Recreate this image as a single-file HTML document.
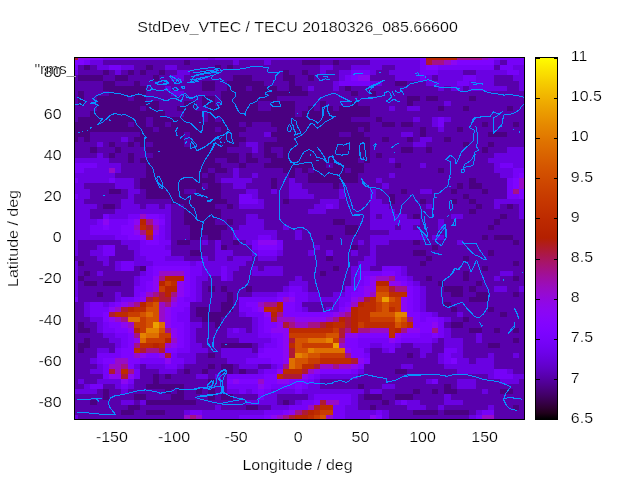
<!DOCTYPE html><html><head><meta charset="utf-8"><style>html,body{margin:0;padding:0;background:#fff;overflow:hidden}svg{display:block;will-change:transform}</style></head><body><svg width="640" height="480" viewBox="0 0 640 480" shape-rendering="crispEdges"><rect width="640" height="480" fill="#fff"/>
<rect x="75" y="58" width="3" height="2" fill="#ae1a35"/>
<rect x="78" y="58" width="12" height="2" fill="#8c07f3"/>
<rect x="90" y="58" width="13" height="2" fill="#7e04ff"/>
<rect x="103" y="58" width="105" height="2" fill="#7602f8"/>
<rect x="208" y="58" width="7" height="2" fill="#6a01e2"/>
<rect x="215" y="58" width="205" height="2" fill="#7602f8"/>
<rect x="420" y="58" width="6" height="2" fill="#7e04ff"/>
<rect x="426" y="58" width="31" height="2" fill="#b82400"/>
<rect x="457" y="58" width="25" height="2" fill="#a41287"/>
<rect x="482" y="58" width="6" height="2" fill="#980bc9"/>
<rect x="488" y="58" width="6" height="2" fill="#8c07f3"/>
<rect x="494" y="58" width="6" height="2" fill="#7e04ff"/>
<rect x="500" y="58" width="24" height="2" fill="#7602f8"/>
<rect x="75" y="60" width="9" height="5" fill="#7e04ff"/>
<rect x="84" y="60" width="6" height="5" fill="#7602f8"/>
<rect x="90" y="60" width="13" height="5" fill="#6a01e2"/>
<rect x="103" y="60" width="81" height="5" fill="#5800ac"/>
<rect x="184" y="60" width="6" height="5" fill="#4a0081"/>
<rect x="190" y="60" width="43" height="5" fill="#5800ac"/>
<rect x="233" y="60" width="6" height="5" fill="#6a01e2"/>
<rect x="239" y="60" width="25" height="5" fill="#5800ac"/>
<rect x="264" y="60" width="7" height="5" fill="#6a01e2"/>
<rect x="271" y="60" width="31" height="5" fill="#5800ac"/>
<rect x="302" y="60" width="18" height="5" fill="#4a0081"/>
<rect x="320" y="60" width="13" height="5" fill="#5800ac"/>
<rect x="333" y="60" width="6" height="5" fill="#4a0081"/>
<rect x="339" y="60" width="31" height="5" fill="#5800ac"/>
<rect x="370" y="60" width="50" height="5" fill="#6a01e2"/>
<rect x="420" y="60" width="6" height="5" fill="#7602f8"/>
<rect x="426" y="60" width="6" height="5" fill="#ae1a35"/>
<rect x="432" y="60" width="12" height="5" fill="#a41287"/>
<rect x="444" y="60" width="7" height="5" fill="#980bc9"/>
<rect x="451" y="60" width="6" height="5" fill="#8c07f3"/>
<rect x="457" y="60" width="37" height="5" fill="#7e04ff"/>
<rect x="494" y="60" width="6" height="5" fill="#6a01e2"/>
<rect x="500" y="60" width="7" height="5" fill="#5800ac"/>
<rect x="507" y="60" width="17" height="5" fill="#7602f8"/>
<rect x="75" y="65" width="3" height="5" fill="#7602f8"/>
<rect x="78" y="65" width="6" height="5" fill="#5800ac"/>
<rect x="84" y="65" width="6" height="5" fill="#4a0081"/>
<rect x="90" y="65" width="7" height="5" fill="#5800ac"/>
<rect x="97" y="65" width="12" height="5" fill="#6a01e2"/>
<rect x="109" y="65" width="12" height="5" fill="#7602f8"/>
<rect x="121" y="65" width="13" height="5" fill="#6a01e2"/>
<rect x="134" y="65" width="12" height="5" fill="#5800ac"/>
<rect x="146" y="65" width="7" height="5" fill="#4a0081"/>
<rect x="153" y="65" width="12" height="5" fill="#5800ac"/>
<rect x="165" y="65" width="12" height="5" fill="#6a01e2"/>
<rect x="177" y="65" width="38" height="5" fill="#5800ac"/>
<rect x="215" y="65" width="6" height="5" fill="#4a0081"/>
<rect x="221" y="65" width="6" height="5" fill="#5800ac"/>
<rect x="227" y="65" width="6" height="5" fill="#4a0081"/>
<rect x="233" y="65" width="87" height="5" fill="#5800ac"/>
<rect x="320" y="65" width="13" height="5" fill="#6a01e2"/>
<rect x="333" y="65" width="18" height="5" fill="#5800ac"/>
<rect x="351" y="65" width="31" height="5" fill="#6a01e2"/>
<rect x="382" y="65" width="13" height="5" fill="#5800ac"/>
<rect x="395" y="65" width="25" height="5" fill="#6a01e2"/>
<rect x="420" y="65" width="6" height="5" fill="#7602f8"/>
<rect x="426" y="65" width="12" height="5" fill="#7e04ff"/>
<rect x="438" y="65" width="56" height="5" fill="#7602f8"/>
<rect x="494" y="65" width="6" height="5" fill="#5800ac"/>
<rect x="500" y="65" width="13" height="5" fill="#7602f8"/>
<rect x="513" y="65" width="11" height="5" fill="#6a01e2"/>
<rect x="75" y="70" width="3" height="5" fill="#6a01e2"/>
<rect x="78" y="70" width="25" height="5" fill="#5800ac"/>
<rect x="103" y="70" width="6" height="5" fill="#4a0081"/>
<rect x="109" y="70" width="6" height="5" fill="#5800ac"/>
<rect x="115" y="70" width="6" height="5" fill="#6a01e2"/>
<rect x="121" y="70" width="7" height="5" fill="#5800ac"/>
<rect x="128" y="70" width="6" height="5" fill="#4a0081"/>
<rect x="134" y="70" width="6" height="5" fill="#5800ac"/>
<rect x="140" y="70" width="6" height="5" fill="#4a0081"/>
<rect x="146" y="70" width="13" height="5" fill="#5800ac"/>
<rect x="159" y="70" width="6" height="5" fill="#4a0081"/>
<rect x="165" y="70" width="12" height="5" fill="#5800ac"/>
<rect x="177" y="70" width="13" height="5" fill="#6a01e2"/>
<rect x="190" y="70" width="12" height="5" fill="#5800ac"/>
<rect x="202" y="70" width="6" height="5" fill="#4a0081"/>
<rect x="208" y="70" width="75" height="5" fill="#5800ac"/>
<rect x="283" y="70" width="6" height="5" fill="#4a0081"/>
<rect x="289" y="70" width="13" height="5" fill="#5800ac"/>
<rect x="302" y="70" width="6" height="5" fill="#4a0081"/>
<rect x="308" y="70" width="12" height="5" fill="#5800ac"/>
<rect x="320" y="70" width="6" height="5" fill="#6a01e2"/>
<rect x="326" y="70" width="13" height="5" fill="#5800ac"/>
<rect x="339" y="70" width="12" height="5" fill="#6a01e2"/>
<rect x="351" y="70" width="19" height="5" fill="#7602f8"/>
<rect x="370" y="70" width="6" height="5" fill="#6a01e2"/>
<rect x="376" y="70" width="13" height="5" fill="#5800ac"/>
<rect x="389" y="70" width="31" height="5" fill="#6a01e2"/>
<rect x="420" y="70" width="18" height="5" fill="#7602f8"/>
<rect x="438" y="70" width="25" height="5" fill="#6a01e2"/>
<rect x="463" y="70" width="13" height="5" fill="#5800ac"/>
<rect x="476" y="70" width="31" height="5" fill="#6a01e2"/>
<rect x="507" y="70" width="12" height="5" fill="#7602f8"/>
<rect x="519" y="70" width="5" height="5" fill="#6a01e2"/>
<rect x="75" y="75" width="3" height="6" fill="#5800ac"/>
<rect x="78" y="75" width="25" height="6" fill="#4a0081"/>
<rect x="103" y="75" width="12" height="6" fill="#5800ac"/>
<rect x="115" y="75" width="13" height="6" fill="#4a0081"/>
<rect x="128" y="75" width="25" height="6" fill="#5800ac"/>
<rect x="153" y="75" width="6" height="6" fill="#4a0081"/>
<rect x="159" y="75" width="12" height="6" fill="#5800ac"/>
<rect x="171" y="75" width="13" height="6" fill="#6a01e2"/>
<rect x="184" y="75" width="49" height="6" fill="#5800ac"/>
<rect x="233" y="75" width="19" height="6" fill="#4a0081"/>
<rect x="252" y="75" width="31" height="6" fill="#5800ac"/>
<rect x="283" y="75" width="12" height="6" fill="#4a0081"/>
<rect x="295" y="75" width="13" height="6" fill="#5800ac"/>
<rect x="308" y="75" width="6" height="6" fill="#4a0081"/>
<rect x="314" y="75" width="25" height="6" fill="#5800ac"/>
<rect x="339" y="75" width="6" height="6" fill="#6a01e2"/>
<rect x="345" y="75" width="6" height="6" fill="#7602f8"/>
<rect x="351" y="75" width="7" height="6" fill="#7e04ff"/>
<rect x="358" y="75" width="12" height="6" fill="#8c07f3"/>
<rect x="370" y="75" width="25" height="6" fill="#5800ac"/>
<rect x="395" y="75" width="25" height="6" fill="#6a01e2"/>
<rect x="420" y="75" width="6" height="6" fill="#7602f8"/>
<rect x="426" y="75" width="6" height="6" fill="#6a01e2"/>
<rect x="432" y="75" width="6" height="6" fill="#5800ac"/>
<rect x="438" y="75" width="25" height="6" fill="#6a01e2"/>
<rect x="463" y="75" width="13" height="6" fill="#7602f8"/>
<rect x="476" y="75" width="18" height="6" fill="#6a01e2"/>
<rect x="494" y="75" width="19" height="6" fill="#5800ac"/>
<rect x="513" y="75" width="11" height="6" fill="#6a01e2"/>
<rect x="75" y="81" width="28" height="5" fill="#5800ac"/>
<rect x="103" y="81" width="12" height="5" fill="#4a0081"/>
<rect x="115" y="81" width="19" height="5" fill="#5800ac"/>
<rect x="134" y="81" width="6" height="5" fill="#4a0081"/>
<rect x="140" y="81" width="62" height="5" fill="#5800ac"/>
<rect x="202" y="81" width="13" height="5" fill="#4a0081"/>
<rect x="215" y="81" width="12" height="5" fill="#5800ac"/>
<rect x="227" y="81" width="37" height="5" fill="#4a0081"/>
<rect x="264" y="81" width="25" height="5" fill="#5800ac"/>
<rect x="289" y="81" width="6" height="5" fill="#4a0081"/>
<rect x="295" y="81" width="38" height="5" fill="#5800ac"/>
<rect x="333" y="81" width="6" height="5" fill="#6a01e2"/>
<rect x="339" y="81" width="31" height="5" fill="#7602f8"/>
<rect x="370" y="81" width="12" height="5" fill="#6a01e2"/>
<rect x="382" y="81" width="13" height="5" fill="#5800ac"/>
<rect x="395" y="81" width="12" height="5" fill="#4a0081"/>
<rect x="407" y="81" width="19" height="5" fill="#5800ac"/>
<rect x="426" y="81" width="31" height="5" fill="#6a01e2"/>
<rect x="457" y="81" width="12" height="5" fill="#7602f8"/>
<rect x="469" y="81" width="25" height="5" fill="#6a01e2"/>
<rect x="494" y="81" width="25" height="5" fill="#5800ac"/>
<rect x="519" y="81" width="5" height="5" fill="#6a01e2"/>
<rect x="75" y="86" width="28" height="5" fill="#5800ac"/>
<rect x="103" y="86" width="43" height="5" fill="#4a0081"/>
<rect x="146" y="86" width="19" height="5" fill="#5800ac"/>
<rect x="165" y="86" width="6" height="5" fill="#6a01e2"/>
<rect x="171" y="86" width="31" height="5" fill="#5800ac"/>
<rect x="202" y="86" width="13" height="5" fill="#4a0081"/>
<rect x="215" y="86" width="12" height="5" fill="#5800ac"/>
<rect x="227" y="86" width="19" height="5" fill="#4a0081"/>
<rect x="246" y="86" width="6" height="5" fill="#5800ac"/>
<rect x="252" y="86" width="25" height="5" fill="#4a0081"/>
<rect x="277" y="86" width="12" height="5" fill="#5800ac"/>
<rect x="289" y="86" width="13" height="5" fill="#4a0081"/>
<rect x="302" y="86" width="6" height="5" fill="#5800ac"/>
<rect x="308" y="86" width="6" height="5" fill="#6a01e2"/>
<rect x="314" y="86" width="19" height="5" fill="#5800ac"/>
<rect x="333" y="86" width="6" height="5" fill="#6a01e2"/>
<rect x="339" y="86" width="6" height="5" fill="#5800ac"/>
<rect x="345" y="86" width="6" height="5" fill="#4a0081"/>
<rect x="351" y="86" width="87" height="5" fill="#5800ac"/>
<rect x="438" y="86" width="6" height="5" fill="#6a01e2"/>
<rect x="444" y="86" width="7" height="5" fill="#5800ac"/>
<rect x="451" y="86" width="12" height="5" fill="#6a01e2"/>
<rect x="463" y="86" width="6" height="5" fill="#5800ac"/>
<rect x="469" y="86" width="38" height="5" fill="#6a01e2"/>
<rect x="507" y="86" width="12" height="5" fill="#5800ac"/>
<rect x="519" y="86" width="5" height="5" fill="#6a01e2"/>
<rect x="75" y="91" width="3" height="5" fill="#5800ac"/>
<rect x="78" y="91" width="6" height="5" fill="#4a0081"/>
<rect x="84" y="91" width="25" height="5" fill="#5800ac"/>
<rect x="109" y="91" width="37" height="5" fill="#4a0081"/>
<rect x="146" y="91" width="25" height="5" fill="#5800ac"/>
<rect x="171" y="91" width="13" height="5" fill="#6a01e2"/>
<rect x="184" y="91" width="37" height="5" fill="#5800ac"/>
<rect x="221" y="91" width="87" height="5" fill="#4a0081"/>
<rect x="308" y="91" width="43" height="5" fill="#5800ac"/>
<rect x="351" y="91" width="7" height="5" fill="#4a0081"/>
<rect x="358" y="91" width="12" height="5" fill="#5800ac"/>
<rect x="370" y="91" width="6" height="5" fill="#4a0081"/>
<rect x="376" y="91" width="148" height="5" fill="#5800ac"/>
<rect x="75" y="96" width="3" height="5" fill="#5800ac"/>
<rect x="78" y="96" width="6" height="5" fill="#4a0081"/>
<rect x="84" y="96" width="13" height="5" fill="#5800ac"/>
<rect x="97" y="96" width="31" height="5" fill="#4a0081"/>
<rect x="128" y="96" width="6" height="5" fill="#5800ac"/>
<rect x="134" y="96" width="12" height="5" fill="#4a0081"/>
<rect x="146" y="96" width="56" height="5" fill="#5800ac"/>
<rect x="202" y="96" width="13" height="5" fill="#4a0081"/>
<rect x="215" y="96" width="6" height="5" fill="#5800ac"/>
<rect x="221" y="96" width="56" height="5" fill="#4a0081"/>
<rect x="277" y="96" width="130" height="5" fill="#5800ac"/>
<rect x="407" y="96" width="13" height="5" fill="#4a0081"/>
<rect x="420" y="96" width="6" height="5" fill="#5800ac"/>
<rect x="426" y="96" width="12" height="5" fill="#4a0081"/>
<rect x="438" y="96" width="31" height="5" fill="#5800ac"/>
<rect x="469" y="96" width="7" height="5" fill="#4a0081"/>
<rect x="476" y="96" width="48" height="5" fill="#5800ac"/>
<rect x="75" y="101" width="3" height="5" fill="#5800ac"/>
<rect x="78" y="101" width="6" height="5" fill="#4a0081"/>
<rect x="84" y="101" width="13" height="5" fill="#5800ac"/>
<rect x="97" y="101" width="62" height="5" fill="#4a0081"/>
<rect x="159" y="101" width="25" height="5" fill="#5800ac"/>
<rect x="184" y="101" width="12" height="5" fill="#4a0081"/>
<rect x="196" y="101" width="6" height="5" fill="#5800ac"/>
<rect x="202" y="101" width="13" height="5" fill="#4a0081"/>
<rect x="215" y="101" width="6" height="5" fill="#5800ac"/>
<rect x="221" y="101" width="37" height="5" fill="#4a0081"/>
<rect x="258" y="101" width="13" height="5" fill="#5800ac"/>
<rect x="271" y="101" width="24" height="5" fill="#4a0081"/>
<rect x="295" y="101" width="25" height="5" fill="#5800ac"/>
<rect x="320" y="101" width="6" height="5" fill="#4a0081"/>
<rect x="326" y="101" width="25" height="5" fill="#5800ac"/>
<rect x="351" y="101" width="7" height="5" fill="#4a0081"/>
<rect x="358" y="101" width="49" height="5" fill="#5800ac"/>
<rect x="407" y="101" width="6" height="5" fill="#4a0081"/>
<rect x="413" y="101" width="31" height="5" fill="#5800ac"/>
<rect x="444" y="101" width="7" height="5" fill="#6a01e2"/>
<rect x="451" y="101" width="73" height="5" fill="#5800ac"/>
<rect x="75" y="106" width="22" height="5" fill="#5800ac"/>
<rect x="97" y="106" width="43" height="5" fill="#4a0081"/>
<rect x="140" y="106" width="6" height="5" fill="#5800ac"/>
<rect x="146" y="106" width="13" height="5" fill="#4a0081"/>
<rect x="159" y="106" width="18" height="5" fill="#5800ac"/>
<rect x="177" y="106" width="19" height="5" fill="#4a0081"/>
<rect x="196" y="106" width="12" height="5" fill="#5800ac"/>
<rect x="208" y="106" width="50" height="5" fill="#4a0081"/>
<rect x="258" y="106" width="13" height="5" fill="#5800ac"/>
<rect x="271" y="106" width="24" height="5" fill="#4a0081"/>
<rect x="295" y="106" width="13" height="5" fill="#5800ac"/>
<rect x="308" y="106" width="6" height="5" fill="#4a0081"/>
<rect x="314" y="106" width="6" height="5" fill="#5800ac"/>
<rect x="320" y="106" width="13" height="5" fill="#4a0081"/>
<rect x="333" y="106" width="6" height="5" fill="#5800ac"/>
<rect x="339" y="106" width="31" height="5" fill="#4a0081"/>
<rect x="370" y="106" width="19" height="5" fill="#5800ac"/>
<rect x="389" y="106" width="6" height="5" fill="#6a01e2"/>
<rect x="395" y="106" width="12" height="5" fill="#5800ac"/>
<rect x="407" y="106" width="13" height="5" fill="#6a01e2"/>
<rect x="420" y="106" width="18" height="5" fill="#5800ac"/>
<rect x="438" y="106" width="6" height="5" fill="#4a0081"/>
<rect x="444" y="106" width="19" height="5" fill="#5800ac"/>
<rect x="463" y="106" width="6" height="5" fill="#4a0081"/>
<rect x="469" y="106" width="38" height="5" fill="#5800ac"/>
<rect x="507" y="106" width="6" height="5" fill="#4a0081"/>
<rect x="513" y="106" width="11" height="5" fill="#5800ac"/>
<rect x="75" y="111" width="15" height="6" fill="#5800ac"/>
<rect x="90" y="111" width="75" height="6" fill="#4a0081"/>
<rect x="165" y="111" width="19" height="6" fill="#5800ac"/>
<rect x="184" y="111" width="18" height="6" fill="#4a0081"/>
<rect x="202" y="111" width="6" height="6" fill="#5800ac"/>
<rect x="208" y="111" width="87" height="6" fill="#4a0081"/>
<rect x="295" y="111" width="7" height="6" fill="#5800ac"/>
<rect x="302" y="111" width="68" height="6" fill="#4a0081"/>
<rect x="370" y="111" width="154" height="6" fill="#5800ac"/>
<rect x="75" y="117" width="3" height="5" fill="#5800ac"/>
<rect x="78" y="117" width="68" height="5" fill="#4a0081"/>
<rect x="146" y="117" width="7" height="5" fill="#5800ac"/>
<rect x="153" y="117" width="49" height="5" fill="#4a0081"/>
<rect x="202" y="117" width="6" height="5" fill="#5800ac"/>
<rect x="208" y="117" width="7" height="5" fill="#4a0081"/>
<rect x="215" y="117" width="6" height="5" fill="#5800ac"/>
<rect x="221" y="117" width="130" height="5" fill="#4a0081"/>
<rect x="351" y="117" width="25" height="5" fill="#5800ac"/>
<rect x="376" y="117" width="6" height="5" fill="#4a0081"/>
<rect x="382" y="117" width="31" height="5" fill="#5800ac"/>
<rect x="413" y="117" width="7" height="5" fill="#6a01e2"/>
<rect x="420" y="117" width="12" height="5" fill="#5800ac"/>
<rect x="432" y="117" width="6" height="5" fill="#6a01e2"/>
<rect x="438" y="117" width="6" height="5" fill="#7602f8"/>
<rect x="444" y="117" width="7" height="5" fill="#6a01e2"/>
<rect x="451" y="117" width="73" height="5" fill="#5800ac"/>
<rect x="75" y="122" width="53" height="5" fill="#4a0081"/>
<rect x="128" y="122" width="6" height="5" fill="#5800ac"/>
<rect x="134" y="122" width="12" height="5" fill="#4a0081"/>
<rect x="146" y="122" width="7" height="5" fill="#5800ac"/>
<rect x="153" y="122" width="12" height="5" fill="#4a0081"/>
<rect x="165" y="122" width="6" height="5" fill="#5800ac"/>
<rect x="171" y="122" width="68" height="5" fill="#4a0081"/>
<rect x="239" y="122" width="7" height="5" fill="#5800ac"/>
<rect x="246" y="122" width="6" height="5" fill="#4a0081"/>
<rect x="252" y="122" width="19" height="5" fill="#5800ac"/>
<rect x="271" y="122" width="99" height="5" fill="#4a0081"/>
<rect x="370" y="122" width="12" height="5" fill="#5800ac"/>
<rect x="382" y="122" width="13" height="5" fill="#4a0081"/>
<rect x="395" y="122" width="6" height="5" fill="#5800ac"/>
<rect x="401" y="122" width="12" height="5" fill="#4a0081"/>
<rect x="413" y="122" width="19" height="5" fill="#5800ac"/>
<rect x="432" y="122" width="6" height="5" fill="#6a01e2"/>
<rect x="438" y="122" width="6" height="5" fill="#7602f8"/>
<rect x="444" y="122" width="38" height="5" fill="#5800ac"/>
<rect x="482" y="122" width="6" height="5" fill="#4a0081"/>
<rect x="488" y="122" width="25" height="5" fill="#5800ac"/>
<rect x="513" y="122" width="6" height="5" fill="#4a0081"/>
<rect x="519" y="122" width="5" height="5" fill="#5800ac"/>
<rect x="75" y="127" width="78" height="5" fill="#4a0081"/>
<rect x="153" y="127" width="6" height="5" fill="#5800ac"/>
<rect x="159" y="127" width="56" height="5" fill="#4a0081"/>
<rect x="215" y="127" width="6" height="5" fill="#5800ac"/>
<rect x="221" y="127" width="25" height="5" fill="#4a0081"/>
<rect x="246" y="127" width="31" height="5" fill="#5800ac"/>
<rect x="277" y="127" width="81" height="5" fill="#4a0081"/>
<rect x="358" y="127" width="6" height="5" fill="#5800ac"/>
<rect x="364" y="127" width="6" height="5" fill="#4a0081"/>
<rect x="370" y="127" width="50" height="5" fill="#5800ac"/>
<rect x="420" y="127" width="6" height="5" fill="#4a0081"/>
<rect x="426" y="127" width="12" height="5" fill="#5800ac"/>
<rect x="438" y="127" width="6" height="5" fill="#6a01e2"/>
<rect x="444" y="127" width="13" height="5" fill="#5800ac"/>
<rect x="457" y="127" width="6" height="5" fill="#4a0081"/>
<rect x="463" y="127" width="61" height="5" fill="#5800ac"/>
<rect x="75" y="132" width="15" height="5" fill="#4a0081"/>
<rect x="90" y="132" width="50" height="5" fill="#5800ac"/>
<rect x="140" y="132" width="44" height="5" fill="#4a0081"/>
<rect x="184" y="132" width="6" height="5" fill="#5800ac"/>
<rect x="190" y="132" width="49" height="5" fill="#4a0081"/>
<rect x="239" y="132" width="25" height="5" fill="#5800ac"/>
<rect x="264" y="132" width="7" height="5" fill="#6a01e2"/>
<rect x="271" y="132" width="68" height="5" fill="#4a0081"/>
<rect x="339" y="132" width="12" height="5" fill="#5800ac"/>
<rect x="351" y="132" width="13" height="5" fill="#4a0081"/>
<rect x="364" y="132" width="37" height="5" fill="#5800ac"/>
<rect x="401" y="132" width="12" height="5" fill="#6a01e2"/>
<rect x="413" y="132" width="7" height="5" fill="#5800ac"/>
<rect x="420" y="132" width="6" height="5" fill="#4a0081"/>
<rect x="426" y="132" width="62" height="5" fill="#5800ac"/>
<rect x="488" y="132" width="19" height="5" fill="#4a0081"/>
<rect x="507" y="132" width="17" height="5" fill="#5800ac"/>
<rect x="75" y="137" width="3" height="5" fill="#4a0081"/>
<rect x="78" y="137" width="6" height="5" fill="#5800ac"/>
<rect x="84" y="137" width="6" height="5" fill="#4a0081"/>
<rect x="90" y="137" width="31" height="5" fill="#5800ac"/>
<rect x="121" y="137" width="7" height="5" fill="#6a01e2"/>
<rect x="128" y="137" width="6" height="5" fill="#5800ac"/>
<rect x="134" y="137" width="50" height="5" fill="#4a0081"/>
<rect x="184" y="137" width="6" height="5" fill="#5800ac"/>
<rect x="190" y="137" width="56" height="5" fill="#4a0081"/>
<rect x="246" y="137" width="31" height="5" fill="#5800ac"/>
<rect x="277" y="137" width="93" height="5" fill="#4a0081"/>
<rect x="370" y="137" width="12" height="5" fill="#5800ac"/>
<rect x="382" y="137" width="7" height="5" fill="#4a0081"/>
<rect x="389" y="137" width="18" height="5" fill="#5800ac"/>
<rect x="407" y="137" width="6" height="5" fill="#4a0081"/>
<rect x="413" y="137" width="7" height="5" fill="#5800ac"/>
<rect x="420" y="137" width="12" height="5" fill="#6a01e2"/>
<rect x="432" y="137" width="12" height="5" fill="#5800ac"/>
<rect x="444" y="137" width="7" height="5" fill="#4a0081"/>
<rect x="451" y="137" width="73" height="5" fill="#5800ac"/>
<rect x="75" y="142" width="22" height="5" fill="#5800ac"/>
<rect x="97" y="142" width="6" height="5" fill="#6a01e2"/>
<rect x="103" y="142" width="6" height="5" fill="#5800ac"/>
<rect x="109" y="142" width="6" height="5" fill="#4a0081"/>
<rect x="115" y="142" width="13" height="5" fill="#5800ac"/>
<rect x="128" y="142" width="6" height="5" fill="#4a0081"/>
<rect x="134" y="142" width="6" height="5" fill="#5800ac"/>
<rect x="140" y="142" width="6" height="5" fill="#4a0081"/>
<rect x="146" y="142" width="7" height="5" fill="#5800ac"/>
<rect x="153" y="142" width="31" height="5" fill="#4a0081"/>
<rect x="184" y="142" width="6" height="5" fill="#5800ac"/>
<rect x="190" y="142" width="49" height="5" fill="#4a0081"/>
<rect x="239" y="142" width="7" height="5" fill="#5800ac"/>
<rect x="246" y="142" width="12" height="5" fill="#6a01e2"/>
<rect x="258" y="142" width="6" height="5" fill="#5800ac"/>
<rect x="264" y="142" width="106" height="5" fill="#4a0081"/>
<rect x="370" y="142" width="43" height="5" fill="#5800ac"/>
<rect x="413" y="142" width="13" height="5" fill="#6a01e2"/>
<rect x="426" y="142" width="37" height="5" fill="#5800ac"/>
<rect x="463" y="142" width="6" height="5" fill="#4a0081"/>
<rect x="469" y="142" width="19" height="5" fill="#5800ac"/>
<rect x="488" y="142" width="6" height="5" fill="#4a0081"/>
<rect x="494" y="142" width="30" height="5" fill="#5800ac"/>
<rect x="75" y="147" width="15" height="6" fill="#5800ac"/>
<rect x="90" y="147" width="7" height="6" fill="#4a0081"/>
<rect x="97" y="147" width="18" height="6" fill="#5800ac"/>
<rect x="115" y="147" width="6" height="6" fill="#4a0081"/>
<rect x="121" y="147" width="25" height="6" fill="#5800ac"/>
<rect x="146" y="147" width="81" height="6" fill="#4a0081"/>
<rect x="227" y="147" width="25" height="6" fill="#5800ac"/>
<rect x="252" y="147" width="6" height="6" fill="#6a01e2"/>
<rect x="258" y="147" width="6" height="6" fill="#5800ac"/>
<rect x="264" y="147" width="7" height="6" fill="#4a0081"/>
<rect x="271" y="147" width="12" height="6" fill="#5800ac"/>
<rect x="283" y="147" width="87" height="6" fill="#4a0081"/>
<rect x="370" y="147" width="31" height="6" fill="#5800ac"/>
<rect x="401" y="147" width="12" height="6" fill="#4a0081"/>
<rect x="413" y="147" width="13" height="6" fill="#5800ac"/>
<rect x="426" y="147" width="6" height="6" fill="#4a0081"/>
<rect x="432" y="147" width="50" height="6" fill="#5800ac"/>
<rect x="482" y="147" width="6" height="6" fill="#4a0081"/>
<rect x="488" y="147" width="19" height="6" fill="#5800ac"/>
<rect x="507" y="147" width="17" height="6" fill="#6a01e2"/>
<rect x="75" y="153" width="22" height="5" fill="#5800ac"/>
<rect x="97" y="153" width="6" height="5" fill="#6a01e2"/>
<rect x="103" y="153" width="6" height="5" fill="#5800ac"/>
<rect x="109" y="153" width="6" height="5" fill="#4a0081"/>
<rect x="115" y="153" width="13" height="5" fill="#5800ac"/>
<rect x="128" y="153" width="6" height="5" fill="#4a0081"/>
<rect x="134" y="153" width="19" height="5" fill="#5800ac"/>
<rect x="153" y="153" width="86" height="5" fill="#4a0081"/>
<rect x="239" y="153" width="7" height="5" fill="#5800ac"/>
<rect x="246" y="153" width="6" height="5" fill="#4a0081"/>
<rect x="252" y="153" width="12" height="5" fill="#5800ac"/>
<rect x="264" y="153" width="13" height="5" fill="#4a0081"/>
<rect x="277" y="153" width="6" height="5" fill="#5800ac"/>
<rect x="283" y="153" width="87" height="5" fill="#4a0081"/>
<rect x="370" y="153" width="6" height="5" fill="#5800ac"/>
<rect x="376" y="153" width="6" height="5" fill="#4a0081"/>
<rect x="382" y="153" width="112" height="5" fill="#5800ac"/>
<rect x="494" y="153" width="30" height="5" fill="#6a01e2"/>
<rect x="75" y="158" width="34" height="5" fill="#6a01e2"/>
<rect x="109" y="158" width="19" height="5" fill="#5800ac"/>
<rect x="128" y="158" width="6" height="5" fill="#4a0081"/>
<rect x="134" y="158" width="6" height="5" fill="#5800ac"/>
<rect x="140" y="158" width="75" height="5" fill="#4a0081"/>
<rect x="215" y="158" width="12" height="5" fill="#5800ac"/>
<rect x="227" y="158" width="12" height="5" fill="#4a0081"/>
<rect x="239" y="158" width="7" height="5" fill="#5800ac"/>
<rect x="246" y="158" width="12" height="5" fill="#4a0081"/>
<rect x="258" y="158" width="13" height="5" fill="#5800ac"/>
<rect x="271" y="158" width="87" height="5" fill="#4a0081"/>
<rect x="358" y="158" width="6" height="5" fill="#5800ac"/>
<rect x="364" y="158" width="6" height="5" fill="#4a0081"/>
<rect x="370" y="158" width="19" height="5" fill="#5800ac"/>
<rect x="389" y="158" width="6" height="5" fill="#6a01e2"/>
<rect x="395" y="158" width="93" height="5" fill="#5800ac"/>
<rect x="488" y="158" width="36" height="5" fill="#6a01e2"/>
<rect x="75" y="163" width="22" height="5" fill="#7602f8"/>
<rect x="97" y="163" width="24" height="5" fill="#6a01e2"/>
<rect x="121" y="163" width="25" height="5" fill="#5800ac"/>
<rect x="146" y="163" width="75" height="5" fill="#4a0081"/>
<rect x="221" y="163" width="18" height="5" fill="#5800ac"/>
<rect x="239" y="163" width="7" height="5" fill="#4a0081"/>
<rect x="246" y="163" width="18" height="5" fill="#5800ac"/>
<rect x="264" y="163" width="62" height="5" fill="#4a0081"/>
<rect x="326" y="163" width="7" height="5" fill="#5800ac"/>
<rect x="333" y="163" width="31" height="5" fill="#4a0081"/>
<rect x="364" y="163" width="31" height="5" fill="#5800ac"/>
<rect x="395" y="163" width="6" height="5" fill="#4a0081"/>
<rect x="401" y="163" width="19" height="5" fill="#5800ac"/>
<rect x="420" y="163" width="6" height="5" fill="#6a01e2"/>
<rect x="426" y="163" width="68" height="5" fill="#5800ac"/>
<rect x="494" y="163" width="6" height="5" fill="#6a01e2"/>
<rect x="500" y="163" width="13" height="5" fill="#7602f8"/>
<rect x="513" y="163" width="11" height="5" fill="#6a01e2"/>
<rect x="75" y="168" width="9" height="5" fill="#7602f8"/>
<rect x="84" y="168" width="25" height="5" fill="#6a01e2"/>
<rect x="109" y="168" width="6" height="5" fill="#980bc9"/>
<rect x="115" y="168" width="6" height="5" fill="#6a01e2"/>
<rect x="121" y="168" width="25" height="5" fill="#5800ac"/>
<rect x="146" y="168" width="62" height="5" fill="#4a0081"/>
<rect x="208" y="168" width="7" height="5" fill="#5800ac"/>
<rect x="215" y="168" width="12" height="5" fill="#4a0081"/>
<rect x="227" y="168" width="6" height="5" fill="#5800ac"/>
<rect x="233" y="168" width="6" height="5" fill="#6a01e2"/>
<rect x="239" y="168" width="44" height="5" fill="#5800ac"/>
<rect x="283" y="168" width="12" height="5" fill="#4a0081"/>
<rect x="295" y="168" width="7" height="5" fill="#5800ac"/>
<rect x="302" y="168" width="6" height="5" fill="#4a0081"/>
<rect x="308" y="168" width="6" height="5" fill="#5800ac"/>
<rect x="314" y="168" width="31" height="5" fill="#4a0081"/>
<rect x="345" y="168" width="6" height="5" fill="#5800ac"/>
<rect x="351" y="168" width="13" height="5" fill="#4a0081"/>
<rect x="364" y="168" width="74" height="5" fill="#5800ac"/>
<rect x="438" y="168" width="6" height="5" fill="#4a0081"/>
<rect x="444" y="168" width="50" height="5" fill="#5800ac"/>
<rect x="494" y="168" width="19" height="5" fill="#6a01e2"/>
<rect x="513" y="168" width="11" height="5" fill="#7602f8"/>
<rect x="75" y="173" width="40" height="5" fill="#6a01e2"/>
<rect x="115" y="173" width="31" height="5" fill="#5800ac"/>
<rect x="146" y="173" width="56" height="5" fill="#4a0081"/>
<rect x="202" y="173" width="6" height="5" fill="#5800ac"/>
<rect x="208" y="173" width="7" height="5" fill="#4a0081"/>
<rect x="215" y="173" width="18" height="5" fill="#5800ac"/>
<rect x="233" y="173" width="6" height="5" fill="#6a01e2"/>
<rect x="239" y="173" width="13" height="5" fill="#5800ac"/>
<rect x="252" y="173" width="6" height="5" fill="#6a01e2"/>
<rect x="258" y="173" width="31" height="5" fill="#5800ac"/>
<rect x="289" y="173" width="6" height="5" fill="#4a0081"/>
<rect x="295" y="173" width="13" height="5" fill="#5800ac"/>
<rect x="308" y="173" width="50" height="5" fill="#4a0081"/>
<rect x="358" y="173" width="31" height="5" fill="#5800ac"/>
<rect x="389" y="173" width="6" height="5" fill="#6a01e2"/>
<rect x="395" y="173" width="105" height="5" fill="#5800ac"/>
<rect x="500" y="173" width="13" height="5" fill="#6a01e2"/>
<rect x="513" y="173" width="6" height="5" fill="#7602f8"/>
<rect x="519" y="173" width="5" height="5" fill="#7e04ff"/>
<rect x="75" y="178" width="3" height="5" fill="#7602f8"/>
<rect x="78" y="178" width="31" height="5" fill="#6a01e2"/>
<rect x="109" y="178" width="6" height="5" fill="#7602f8"/>
<rect x="115" y="178" width="19" height="5" fill="#6a01e2"/>
<rect x="134" y="178" width="6" height="5" fill="#5800ac"/>
<rect x="140" y="178" width="75" height="5" fill="#4a0081"/>
<rect x="215" y="178" width="6" height="5" fill="#5800ac"/>
<rect x="221" y="178" width="31" height="5" fill="#6a01e2"/>
<rect x="252" y="178" width="19" height="5" fill="#5800ac"/>
<rect x="271" y="178" width="6" height="5" fill="#4a0081"/>
<rect x="277" y="178" width="12" height="5" fill="#5800ac"/>
<rect x="289" y="178" width="6" height="5" fill="#6a01e2"/>
<rect x="295" y="178" width="13" height="5" fill="#5800ac"/>
<rect x="308" y="178" width="50" height="5" fill="#4a0081"/>
<rect x="358" y="178" width="18" height="5" fill="#5800ac"/>
<rect x="376" y="178" width="6" height="5" fill="#6a01e2"/>
<rect x="382" y="178" width="87" height="5" fill="#5800ac"/>
<rect x="469" y="178" width="7" height="5" fill="#4a0081"/>
<rect x="476" y="178" width="31" height="5" fill="#5800ac"/>
<rect x="507" y="178" width="6" height="5" fill="#7602f8"/>
<rect x="513" y="178" width="6" height="5" fill="#7e04ff"/>
<rect x="519" y="178" width="5" height="5" fill="#980bc9"/>
<rect x="75" y="183" width="9" height="6" fill="#6a01e2"/>
<rect x="84" y="183" width="31" height="6" fill="#5800ac"/>
<rect x="115" y="183" width="19" height="6" fill="#6a01e2"/>
<rect x="134" y="183" width="6" height="6" fill="#5800ac"/>
<rect x="140" y="183" width="62" height="6" fill="#4a0081"/>
<rect x="202" y="183" width="6" height="6" fill="#5800ac"/>
<rect x="208" y="183" width="13" height="6" fill="#4a0081"/>
<rect x="221" y="183" width="12" height="6" fill="#5800ac"/>
<rect x="233" y="183" width="13" height="6" fill="#6a01e2"/>
<rect x="246" y="183" width="25" height="6" fill="#5800ac"/>
<rect x="271" y="183" width="6" height="6" fill="#4a0081"/>
<rect x="277" y="183" width="12" height="6" fill="#5800ac"/>
<rect x="289" y="183" width="13" height="6" fill="#6a01e2"/>
<rect x="302" y="183" width="31" height="6" fill="#5800ac"/>
<rect x="333" y="183" width="6" height="6" fill="#4a0081"/>
<rect x="339" y="183" width="43" height="6" fill="#5800ac"/>
<rect x="382" y="183" width="7" height="6" fill="#6a01e2"/>
<rect x="389" y="183" width="68" height="6" fill="#5800ac"/>
<rect x="457" y="183" width="6" height="6" fill="#4a0081"/>
<rect x="463" y="183" width="6" height="6" fill="#5800ac"/>
<rect x="469" y="183" width="13" height="6" fill="#4a0081"/>
<rect x="482" y="183" width="25" height="6" fill="#5800ac"/>
<rect x="507" y="183" width="6" height="6" fill="#7602f8"/>
<rect x="513" y="183" width="6" height="6" fill="#7e04ff"/>
<rect x="519" y="183" width="5" height="6" fill="#980bc9"/>
<rect x="75" y="189" width="15" height="5" fill="#6a01e2"/>
<rect x="90" y="189" width="19" height="5" fill="#5800ac"/>
<rect x="109" y="189" width="12" height="5" fill="#4a0081"/>
<rect x="121" y="189" width="7" height="5" fill="#5800ac"/>
<rect x="128" y="189" width="12" height="5" fill="#6a01e2"/>
<rect x="140" y="189" width="6" height="5" fill="#5800ac"/>
<rect x="146" y="189" width="38" height="5" fill="#4a0081"/>
<rect x="184" y="189" width="12" height="5" fill="#5800ac"/>
<rect x="196" y="189" width="25" height="5" fill="#4a0081"/>
<rect x="221" y="189" width="25" height="5" fill="#5800ac"/>
<rect x="246" y="189" width="12" height="5" fill="#6a01e2"/>
<rect x="258" y="189" width="13" height="5" fill="#5800ac"/>
<rect x="271" y="189" width="6" height="5" fill="#6a01e2"/>
<rect x="277" y="189" width="12" height="5" fill="#5800ac"/>
<rect x="289" y="189" width="19" height="5" fill="#6a01e2"/>
<rect x="308" y="189" width="31" height="5" fill="#5800ac"/>
<rect x="339" y="189" width="6" height="5" fill="#6a01e2"/>
<rect x="345" y="189" width="25" height="5" fill="#5800ac"/>
<rect x="370" y="189" width="6" height="5" fill="#6a01e2"/>
<rect x="376" y="189" width="25" height="5" fill="#5800ac"/>
<rect x="401" y="189" width="6" height="5" fill="#4a0081"/>
<rect x="407" y="189" width="13" height="5" fill="#5800ac"/>
<rect x="420" y="189" width="12" height="5" fill="#6a01e2"/>
<rect x="432" y="189" width="19" height="5" fill="#5800ac"/>
<rect x="451" y="189" width="6" height="5" fill="#4a0081"/>
<rect x="457" y="189" width="25" height="5" fill="#5800ac"/>
<rect x="482" y="189" width="6" height="5" fill="#4a0081"/>
<rect x="488" y="189" width="19" height="5" fill="#5800ac"/>
<rect x="507" y="189" width="6" height="5" fill="#7602f8"/>
<rect x="513" y="189" width="6" height="5" fill="#a41287"/>
<rect x="519" y="189" width="5" height="5" fill="#7e04ff"/>
<rect x="75" y="194" width="3" height="5" fill="#7602f8"/>
<rect x="78" y="194" width="12" height="5" fill="#6a01e2"/>
<rect x="90" y="194" width="38" height="5" fill="#5800ac"/>
<rect x="128" y="194" width="6" height="5" fill="#6a01e2"/>
<rect x="134" y="194" width="12" height="5" fill="#5800ac"/>
<rect x="146" y="194" width="75" height="5" fill="#4a0081"/>
<rect x="221" y="194" width="18" height="5" fill="#5800ac"/>
<rect x="239" y="194" width="13" height="5" fill="#7602f8"/>
<rect x="252" y="194" width="6" height="5" fill="#6a01e2"/>
<rect x="258" y="194" width="31" height="5" fill="#5800ac"/>
<rect x="289" y="194" width="25" height="5" fill="#6a01e2"/>
<rect x="314" y="194" width="25" height="5" fill="#5800ac"/>
<rect x="339" y="194" width="6" height="5" fill="#6a01e2"/>
<rect x="345" y="194" width="25" height="5" fill="#5800ac"/>
<rect x="370" y="194" width="6" height="5" fill="#6a01e2"/>
<rect x="376" y="194" width="13" height="5" fill="#5800ac"/>
<rect x="389" y="194" width="6" height="5" fill="#4a0081"/>
<rect x="395" y="194" width="68" height="5" fill="#5800ac"/>
<rect x="463" y="194" width="6" height="5" fill="#4a0081"/>
<rect x="469" y="194" width="38" height="5" fill="#5800ac"/>
<rect x="507" y="194" width="12" height="5" fill="#7602f8"/>
<rect x="519" y="194" width="5" height="5" fill="#7e04ff"/>
<rect x="75" y="199" width="9" height="5" fill="#6a01e2"/>
<rect x="84" y="199" width="37" height="5" fill="#5800ac"/>
<rect x="121" y="199" width="13" height="5" fill="#6a01e2"/>
<rect x="134" y="199" width="37" height="5" fill="#5800ac"/>
<rect x="171" y="199" width="56" height="5" fill="#4a0081"/>
<rect x="227" y="199" width="12" height="5" fill="#5800ac"/>
<rect x="239" y="199" width="19" height="5" fill="#7602f8"/>
<rect x="258" y="199" width="6" height="5" fill="#6a01e2"/>
<rect x="264" y="199" width="19" height="5" fill="#5800ac"/>
<rect x="283" y="199" width="6" height="5" fill="#4a0081"/>
<rect x="289" y="199" width="31" height="5" fill="#5800ac"/>
<rect x="320" y="199" width="19" height="5" fill="#6a01e2"/>
<rect x="339" y="199" width="31" height="5" fill="#5800ac"/>
<rect x="370" y="199" width="12" height="5" fill="#6a01e2"/>
<rect x="382" y="199" width="7" height="5" fill="#5800ac"/>
<rect x="389" y="199" width="6" height="5" fill="#4a0081"/>
<rect x="395" y="199" width="25" height="5" fill="#5800ac"/>
<rect x="420" y="199" width="6" height="5" fill="#4a0081"/>
<rect x="426" y="199" width="25" height="5" fill="#5800ac"/>
<rect x="451" y="199" width="6" height="5" fill="#4a0081"/>
<rect x="457" y="199" width="12" height="5" fill="#5800ac"/>
<rect x="469" y="199" width="7" height="5" fill="#4a0081"/>
<rect x="476" y="199" width="18" height="5" fill="#5800ac"/>
<rect x="494" y="199" width="30" height="5" fill="#6a01e2"/>
<rect x="75" y="204" width="22" height="5" fill="#6a01e2"/>
<rect x="97" y="204" width="6" height="5" fill="#5800ac"/>
<rect x="103" y="204" width="12" height="5" fill="#4a0081"/>
<rect x="115" y="204" width="6" height="5" fill="#5800ac"/>
<rect x="121" y="204" width="19" height="5" fill="#6a01e2"/>
<rect x="140" y="204" width="6" height="5" fill="#5800ac"/>
<rect x="146" y="204" width="13" height="5" fill="#6a01e2"/>
<rect x="159" y="204" width="6" height="5" fill="#5800ac"/>
<rect x="165" y="204" width="6" height="5" fill="#6a01e2"/>
<rect x="171" y="204" width="13" height="5" fill="#5800ac"/>
<rect x="184" y="204" width="31" height="5" fill="#4a0081"/>
<rect x="215" y="204" width="12" height="5" fill="#5800ac"/>
<rect x="227" y="204" width="6" height="5" fill="#4a0081"/>
<rect x="233" y="204" width="6" height="5" fill="#5800ac"/>
<rect x="239" y="204" width="25" height="5" fill="#6a01e2"/>
<rect x="264" y="204" width="50" height="5" fill="#5800ac"/>
<rect x="314" y="204" width="12" height="5" fill="#6a01e2"/>
<rect x="326" y="204" width="7" height="5" fill="#7602f8"/>
<rect x="333" y="204" width="6" height="5" fill="#6a01e2"/>
<rect x="339" y="204" width="31" height="5" fill="#5800ac"/>
<rect x="370" y="204" width="19" height="5" fill="#6a01e2"/>
<rect x="389" y="204" width="37" height="5" fill="#5800ac"/>
<rect x="426" y="204" width="6" height="5" fill="#6a01e2"/>
<rect x="432" y="204" width="44" height="5" fill="#5800ac"/>
<rect x="476" y="204" width="6" height="5" fill="#4a0081"/>
<rect x="482" y="204" width="12" height="5" fill="#5800ac"/>
<rect x="494" y="204" width="6" height="5" fill="#6a01e2"/>
<rect x="500" y="204" width="7" height="5" fill="#5800ac"/>
<rect x="507" y="204" width="6" height="5" fill="#4a0081"/>
<rect x="513" y="204" width="6" height="5" fill="#5800ac"/>
<rect x="519" y="204" width="5" height="5" fill="#6a01e2"/>
<rect x="75" y="209" width="15" height="5" fill="#6a01e2"/>
<rect x="90" y="209" width="25" height="5" fill="#5800ac"/>
<rect x="115" y="209" width="56" height="5" fill="#6a01e2"/>
<rect x="171" y="209" width="13" height="5" fill="#5800ac"/>
<rect x="184" y="209" width="37" height="5" fill="#4a0081"/>
<rect x="221" y="209" width="87" height="5" fill="#5800ac"/>
<rect x="308" y="209" width="18" height="5" fill="#6a01e2"/>
<rect x="326" y="209" width="44" height="5" fill="#5800ac"/>
<rect x="370" y="209" width="25" height="5" fill="#6a01e2"/>
<rect x="395" y="209" width="74" height="5" fill="#5800ac"/>
<rect x="469" y="209" width="7" height="5" fill="#4a0081"/>
<rect x="476" y="209" width="43" height="5" fill="#5800ac"/>
<rect x="519" y="209" width="5" height="5" fill="#6a01e2"/>
<rect x="75" y="214" width="15" height="5" fill="#6a01e2"/>
<rect x="90" y="214" width="13" height="5" fill="#5800ac"/>
<rect x="103" y="214" width="6" height="5" fill="#7602f8"/>
<rect x="109" y="214" width="19" height="5" fill="#6a01e2"/>
<rect x="128" y="214" width="12" height="5" fill="#7602f8"/>
<rect x="140" y="214" width="6" height="5" fill="#980bc9"/>
<rect x="146" y="214" width="13" height="5" fill="#7e04ff"/>
<rect x="159" y="214" width="6" height="5" fill="#7602f8"/>
<rect x="165" y="214" width="6" height="5" fill="#6a01e2"/>
<rect x="171" y="214" width="13" height="5" fill="#5800ac"/>
<rect x="184" y="214" width="37" height="5" fill="#4a0081"/>
<rect x="221" y="214" width="25" height="5" fill="#5800ac"/>
<rect x="246" y="214" width="12" height="5" fill="#6a01e2"/>
<rect x="258" y="214" width="112" height="5" fill="#5800ac"/>
<rect x="370" y="214" width="6" height="5" fill="#6a01e2"/>
<rect x="376" y="214" width="6" height="5" fill="#5800ac"/>
<rect x="382" y="214" width="25" height="5" fill="#6a01e2"/>
<rect x="407" y="214" width="6" height="5" fill="#5800ac"/>
<rect x="413" y="214" width="7" height="5" fill="#4a0081"/>
<rect x="420" y="214" width="31" height="5" fill="#5800ac"/>
<rect x="451" y="214" width="12" height="5" fill="#6a01e2"/>
<rect x="463" y="214" width="37" height="5" fill="#5800ac"/>
<rect x="500" y="214" width="7" height="5" fill="#4a0081"/>
<rect x="507" y="214" width="12" height="5" fill="#5800ac"/>
<rect x="519" y="214" width="5" height="5" fill="#6a01e2"/>
<rect x="75" y="219" width="22" height="6" fill="#6a01e2"/>
<rect x="97" y="219" width="6" height="6" fill="#7602f8"/>
<rect x="103" y="219" width="6" height="6" fill="#8c07f3"/>
<rect x="109" y="219" width="19" height="6" fill="#7602f8"/>
<rect x="128" y="219" width="6" height="6" fill="#7e04ff"/>
<rect x="134" y="219" width="6" height="6" fill="#8c07f3"/>
<rect x="140" y="219" width="6" height="6" fill="#b82400"/>
<rect x="146" y="219" width="7" height="6" fill="#a41287"/>
<rect x="153" y="219" width="6" height="6" fill="#8c07f3"/>
<rect x="159" y="219" width="6" height="6" fill="#7e04ff"/>
<rect x="165" y="219" width="6" height="6" fill="#6a01e2"/>
<rect x="171" y="219" width="13" height="6" fill="#5800ac"/>
<rect x="184" y="219" width="31" height="6" fill="#4a0081"/>
<rect x="215" y="219" width="12" height="6" fill="#5800ac"/>
<rect x="227" y="219" width="6" height="6" fill="#4a0081"/>
<rect x="233" y="219" width="13" height="6" fill="#5800ac"/>
<rect x="246" y="219" width="18" height="6" fill="#6a01e2"/>
<rect x="264" y="219" width="69" height="6" fill="#5800ac"/>
<rect x="333" y="219" width="12" height="6" fill="#4a0081"/>
<rect x="345" y="219" width="25" height="6" fill="#5800ac"/>
<rect x="370" y="219" width="50" height="6" fill="#6a01e2"/>
<rect x="420" y="219" width="18" height="6" fill="#5800ac"/>
<rect x="438" y="219" width="6" height="6" fill="#6a01e2"/>
<rect x="444" y="219" width="50" height="6" fill="#5800ac"/>
<rect x="494" y="219" width="6" height="6" fill="#4a0081"/>
<rect x="500" y="219" width="24" height="6" fill="#5800ac"/>
<rect x="75" y="225" width="15" height="5" fill="#6a01e2"/>
<rect x="90" y="225" width="13" height="5" fill="#7602f8"/>
<rect x="103" y="225" width="6" height="5" fill="#7e04ff"/>
<rect x="109" y="225" width="12" height="5" fill="#7602f8"/>
<rect x="121" y="225" width="13" height="5" fill="#7e04ff"/>
<rect x="134" y="225" width="6" height="5" fill="#980bc9"/>
<rect x="140" y="225" width="6" height="5" fill="#be2c00"/>
<rect x="146" y="225" width="7" height="5" fill="#ae1a35"/>
<rect x="153" y="225" width="6" height="5" fill="#980bc9"/>
<rect x="159" y="225" width="6" height="5" fill="#7602f8"/>
<rect x="165" y="225" width="6" height="5" fill="#6a01e2"/>
<rect x="171" y="225" width="19" height="5" fill="#5800ac"/>
<rect x="190" y="225" width="37" height="5" fill="#4a0081"/>
<rect x="227" y="225" width="12" height="5" fill="#5800ac"/>
<rect x="239" y="225" width="25" height="5" fill="#6a01e2"/>
<rect x="264" y="225" width="19" height="5" fill="#5800ac"/>
<rect x="283" y="225" width="6" height="5" fill="#6a01e2"/>
<rect x="289" y="225" width="56" height="5" fill="#5800ac"/>
<rect x="345" y="225" width="13" height="5" fill="#4a0081"/>
<rect x="358" y="225" width="12" height="5" fill="#5800ac"/>
<rect x="370" y="225" width="25" height="5" fill="#6a01e2"/>
<rect x="395" y="225" width="6" height="5" fill="#5800ac"/>
<rect x="401" y="225" width="12" height="5" fill="#6a01e2"/>
<rect x="413" y="225" width="25" height="5" fill="#5800ac"/>
<rect x="438" y="225" width="6" height="5" fill="#6a01e2"/>
<rect x="444" y="225" width="44" height="5" fill="#5800ac"/>
<rect x="488" y="225" width="6" height="5" fill="#4a0081"/>
<rect x="494" y="225" width="30" height="5" fill="#5800ac"/>
<rect x="75" y="230" width="15" height="5" fill="#6a01e2"/>
<rect x="90" y="230" width="31" height="5" fill="#7602f8"/>
<rect x="121" y="230" width="13" height="5" fill="#7e04ff"/>
<rect x="134" y="230" width="6" height="5" fill="#8c07f3"/>
<rect x="140" y="230" width="6" height="5" fill="#a41287"/>
<rect x="146" y="230" width="7" height="5" fill="#be2c00"/>
<rect x="153" y="230" width="6" height="5" fill="#8c07f3"/>
<rect x="159" y="230" width="6" height="5" fill="#7602f8"/>
<rect x="165" y="230" width="6" height="5" fill="#6a01e2"/>
<rect x="171" y="230" width="19" height="5" fill="#5800ac"/>
<rect x="190" y="230" width="31" height="5" fill="#4a0081"/>
<rect x="221" y="230" width="12" height="5" fill="#5800ac"/>
<rect x="233" y="230" width="44" height="5" fill="#6a01e2"/>
<rect x="277" y="230" width="18" height="5" fill="#5800ac"/>
<rect x="295" y="230" width="7" height="5" fill="#6a01e2"/>
<rect x="302" y="230" width="43" height="5" fill="#5800ac"/>
<rect x="345" y="230" width="13" height="5" fill="#4a0081"/>
<rect x="358" y="230" width="31" height="5" fill="#5800ac"/>
<rect x="389" y="230" width="31" height="5" fill="#6a01e2"/>
<rect x="420" y="230" width="104" height="5" fill="#5800ac"/>
<rect x="75" y="235" width="40" height="5" fill="#6a01e2"/>
<rect x="115" y="235" width="13" height="5" fill="#7602f8"/>
<rect x="128" y="235" width="12" height="5" fill="#7e04ff"/>
<rect x="140" y="235" width="6" height="5" fill="#8c07f3"/>
<rect x="146" y="235" width="7" height="5" fill="#ae1a35"/>
<rect x="153" y="235" width="6" height="5" fill="#7e04ff"/>
<rect x="159" y="235" width="6" height="5" fill="#7602f8"/>
<rect x="165" y="235" width="6" height="5" fill="#6a01e2"/>
<rect x="171" y="235" width="19" height="5" fill="#5800ac"/>
<rect x="190" y="235" width="12" height="5" fill="#4a0081"/>
<rect x="202" y="235" width="6" height="5" fill="#5800ac"/>
<rect x="208" y="235" width="13" height="5" fill="#4a0081"/>
<rect x="221" y="235" width="12" height="5" fill="#5800ac"/>
<rect x="233" y="235" width="25" height="5" fill="#6a01e2"/>
<rect x="258" y="235" width="13" height="5" fill="#7602f8"/>
<rect x="271" y="235" width="6" height="5" fill="#6a01e2"/>
<rect x="277" y="235" width="18" height="5" fill="#5800ac"/>
<rect x="295" y="235" width="7" height="5" fill="#6a01e2"/>
<rect x="302" y="235" width="24" height="5" fill="#5800ac"/>
<rect x="326" y="235" width="7" height="5" fill="#4a0081"/>
<rect x="333" y="235" width="37" height="5" fill="#5800ac"/>
<rect x="370" y="235" width="56" height="5" fill="#6a01e2"/>
<rect x="426" y="235" width="6" height="5" fill="#5800ac"/>
<rect x="432" y="235" width="12" height="5" fill="#6a01e2"/>
<rect x="444" y="235" width="38" height="5" fill="#5800ac"/>
<rect x="482" y="235" width="6" height="5" fill="#4a0081"/>
<rect x="488" y="235" width="6" height="5" fill="#5800ac"/>
<rect x="494" y="235" width="19" height="5" fill="#4a0081"/>
<rect x="513" y="235" width="11" height="5" fill="#5800ac"/>
<rect x="75" y="240" width="3" height="5" fill="#6a01e2"/>
<rect x="78" y="240" width="43" height="5" fill="#5800ac"/>
<rect x="121" y="240" width="19" height="5" fill="#6a01e2"/>
<rect x="140" y="240" width="6" height="5" fill="#7602f8"/>
<rect x="146" y="240" width="13" height="5" fill="#7e04ff"/>
<rect x="159" y="240" width="12" height="5" fill="#7602f8"/>
<rect x="171" y="240" width="6" height="5" fill="#5800ac"/>
<rect x="177" y="240" width="13" height="5" fill="#4a0081"/>
<rect x="190" y="240" width="12" height="5" fill="#5800ac"/>
<rect x="202" y="240" width="6" height="5" fill="#6a01e2"/>
<rect x="208" y="240" width="7" height="5" fill="#5800ac"/>
<rect x="215" y="240" width="6" height="5" fill="#6a01e2"/>
<rect x="221" y="240" width="12" height="5" fill="#5800ac"/>
<rect x="233" y="240" width="6" height="5" fill="#4a0081"/>
<rect x="239" y="240" width="7" height="5" fill="#5800ac"/>
<rect x="246" y="240" width="6" height="5" fill="#6a01e2"/>
<rect x="252" y="240" width="6" height="5" fill="#7602f8"/>
<rect x="258" y="240" width="19" height="5" fill="#8c07f3"/>
<rect x="277" y="240" width="6" height="5" fill="#7602f8"/>
<rect x="283" y="240" width="75" height="5" fill="#5800ac"/>
<rect x="358" y="240" width="6" height="5" fill="#6a01e2"/>
<rect x="364" y="240" width="6" height="5" fill="#5800ac"/>
<rect x="370" y="240" width="19" height="5" fill="#6a01e2"/>
<rect x="389" y="240" width="24" height="5" fill="#5800ac"/>
<rect x="413" y="240" width="7" height="5" fill="#4a0081"/>
<rect x="420" y="240" width="37" height="5" fill="#5800ac"/>
<rect x="457" y="240" width="6" height="5" fill="#6a01e2"/>
<rect x="463" y="240" width="50" height="5" fill="#5800ac"/>
<rect x="513" y="240" width="6" height="5" fill="#4a0081"/>
<rect x="519" y="240" width="5" height="5" fill="#5800ac"/>
<rect x="75" y="245" width="3" height="5" fill="#6a01e2"/>
<rect x="78" y="245" width="19" height="5" fill="#5800ac"/>
<rect x="97" y="245" width="6" height="5" fill="#6a01e2"/>
<rect x="103" y="245" width="12" height="5" fill="#7602f8"/>
<rect x="115" y="245" width="13" height="5" fill="#5800ac"/>
<rect x="128" y="245" width="12" height="5" fill="#6a01e2"/>
<rect x="140" y="245" width="25" height="5" fill="#7602f8"/>
<rect x="165" y="245" width="6" height="5" fill="#6a01e2"/>
<rect x="171" y="245" width="44" height="5" fill="#5800ac"/>
<rect x="215" y="245" width="6" height="5" fill="#6a01e2"/>
<rect x="221" y="245" width="6" height="5" fill="#4a0081"/>
<rect x="227" y="245" width="25" height="5" fill="#5800ac"/>
<rect x="252" y="245" width="6" height="5" fill="#7602f8"/>
<rect x="258" y="245" width="19" height="5" fill="#7e04ff"/>
<rect x="277" y="245" width="6" height="5" fill="#7602f8"/>
<rect x="283" y="245" width="31" height="5" fill="#5800ac"/>
<rect x="314" y="245" width="6" height="5" fill="#6a01e2"/>
<rect x="320" y="245" width="31" height="5" fill="#5800ac"/>
<rect x="351" y="245" width="7" height="5" fill="#4a0081"/>
<rect x="358" y="245" width="12" height="5" fill="#5800ac"/>
<rect x="370" y="245" width="6" height="5" fill="#6a01e2"/>
<rect x="376" y="245" width="56" height="5" fill="#5800ac"/>
<rect x="432" y="245" width="6" height="5" fill="#4a0081"/>
<rect x="438" y="245" width="86" height="5" fill="#5800ac"/>
<rect x="75" y="250" width="3" height="6" fill="#6a01e2"/>
<rect x="78" y="250" width="12" height="6" fill="#5800ac"/>
<rect x="90" y="250" width="13" height="6" fill="#6a01e2"/>
<rect x="103" y="250" width="12" height="6" fill="#7602f8"/>
<rect x="115" y="250" width="19" height="6" fill="#5800ac"/>
<rect x="134" y="250" width="6" height="6" fill="#6a01e2"/>
<rect x="140" y="250" width="31" height="6" fill="#7602f8"/>
<rect x="171" y="250" width="19" height="6" fill="#5800ac"/>
<rect x="190" y="250" width="12" height="6" fill="#4a0081"/>
<rect x="202" y="250" width="13" height="6" fill="#5800ac"/>
<rect x="215" y="250" width="18" height="6" fill="#6a01e2"/>
<rect x="233" y="250" width="19" height="6" fill="#5800ac"/>
<rect x="252" y="250" width="6" height="6" fill="#6a01e2"/>
<rect x="258" y="250" width="19" height="6" fill="#7602f8"/>
<rect x="277" y="250" width="6" height="6" fill="#6a01e2"/>
<rect x="283" y="250" width="25" height="6" fill="#5800ac"/>
<rect x="308" y="250" width="6" height="6" fill="#6a01e2"/>
<rect x="314" y="250" width="12" height="6" fill="#5800ac"/>
<rect x="326" y="250" width="7" height="6" fill="#6a01e2"/>
<rect x="333" y="250" width="18" height="6" fill="#5800ac"/>
<rect x="351" y="250" width="7" height="6" fill="#6a01e2"/>
<rect x="358" y="250" width="12" height="6" fill="#5800ac"/>
<rect x="370" y="250" width="6" height="6" fill="#6a01e2"/>
<rect x="376" y="250" width="37" height="6" fill="#5800ac"/>
<rect x="413" y="250" width="13" height="6" fill="#4a0081"/>
<rect x="426" y="250" width="62" height="6" fill="#5800ac"/>
<rect x="488" y="250" width="6" height="6" fill="#4a0081"/>
<rect x="494" y="250" width="30" height="6" fill="#5800ac"/>
<rect x="75" y="256" width="22" height="5" fill="#5800ac"/>
<rect x="97" y="256" width="12" height="5" fill="#6a01e2"/>
<rect x="109" y="256" width="25" height="5" fill="#5800ac"/>
<rect x="134" y="256" width="12" height="5" fill="#6a01e2"/>
<rect x="146" y="256" width="19" height="5" fill="#7602f8"/>
<rect x="165" y="256" width="19" height="5" fill="#6a01e2"/>
<rect x="184" y="256" width="18" height="5" fill="#5800ac"/>
<rect x="202" y="256" width="6" height="5" fill="#6a01e2"/>
<rect x="208" y="256" width="7" height="5" fill="#5800ac"/>
<rect x="215" y="256" width="12" height="5" fill="#6a01e2"/>
<rect x="227" y="256" width="6" height="5" fill="#5800ac"/>
<rect x="233" y="256" width="19" height="5" fill="#6a01e2"/>
<rect x="252" y="256" width="6" height="5" fill="#5800ac"/>
<rect x="258" y="256" width="19" height="5" fill="#6a01e2"/>
<rect x="277" y="256" width="49" height="5" fill="#5800ac"/>
<rect x="326" y="256" width="7" height="5" fill="#4a0081"/>
<rect x="333" y="256" width="31" height="5" fill="#5800ac"/>
<rect x="364" y="256" width="12" height="5" fill="#6a01e2"/>
<rect x="376" y="256" width="50" height="5" fill="#5800ac"/>
<rect x="426" y="256" width="6" height="5" fill="#4a0081"/>
<rect x="432" y="256" width="31" height="5" fill="#5800ac"/>
<rect x="463" y="256" width="6" height="5" fill="#4a0081"/>
<rect x="469" y="256" width="55" height="5" fill="#5800ac"/>
<rect x="75" y="261" width="3" height="5" fill="#6a01e2"/>
<rect x="78" y="261" width="6" height="5" fill="#4a0081"/>
<rect x="84" y="261" width="19" height="5" fill="#5800ac"/>
<rect x="103" y="261" width="6" height="5" fill="#6a01e2"/>
<rect x="109" y="261" width="6" height="5" fill="#5800ac"/>
<rect x="115" y="261" width="6" height="5" fill="#6a01e2"/>
<rect x="121" y="261" width="13" height="5" fill="#7602f8"/>
<rect x="134" y="261" width="19" height="5" fill="#6a01e2"/>
<rect x="153" y="261" width="37" height="5" fill="#7602f8"/>
<rect x="190" y="261" width="6" height="5" fill="#6a01e2"/>
<rect x="196" y="261" width="6" height="5" fill="#7602f8"/>
<rect x="202" y="261" width="44" height="5" fill="#6a01e2"/>
<rect x="246" y="261" width="112" height="5" fill="#5800ac"/>
<rect x="358" y="261" width="18" height="5" fill="#6a01e2"/>
<rect x="376" y="261" width="44" height="5" fill="#5800ac"/>
<rect x="420" y="261" width="6" height="5" fill="#4a0081"/>
<rect x="426" y="261" width="87" height="5" fill="#5800ac"/>
<rect x="513" y="261" width="6" height="5" fill="#4a0081"/>
<rect x="519" y="261" width="5" height="5" fill="#5800ac"/>
<rect x="75" y="266" width="3" height="5" fill="#6a01e2"/>
<rect x="78" y="266" width="37" height="5" fill="#5800ac"/>
<rect x="115" y="266" width="6" height="5" fill="#6a01e2"/>
<rect x="121" y="266" width="13" height="5" fill="#7602f8"/>
<rect x="134" y="266" width="6" height="5" fill="#5800ac"/>
<rect x="140" y="266" width="6" height="5" fill="#4a0081"/>
<rect x="146" y="266" width="7" height="5" fill="#7602f8"/>
<rect x="153" y="266" width="37" height="5" fill="#7e04ff"/>
<rect x="190" y="266" width="12" height="5" fill="#7602f8"/>
<rect x="202" y="266" width="19" height="5" fill="#6a01e2"/>
<rect x="221" y="266" width="6" height="5" fill="#7602f8"/>
<rect x="227" y="266" width="12" height="5" fill="#6a01e2"/>
<rect x="239" y="266" width="13" height="5" fill="#5800ac"/>
<rect x="252" y="266" width="6" height="5" fill="#6a01e2"/>
<rect x="258" y="266" width="6" height="5" fill="#5800ac"/>
<rect x="264" y="266" width="19" height="5" fill="#6a01e2"/>
<rect x="283" y="266" width="50" height="5" fill="#5800ac"/>
<rect x="333" y="266" width="6" height="5" fill="#4a0081"/>
<rect x="339" y="266" width="12" height="5" fill="#5800ac"/>
<rect x="351" y="266" width="19" height="5" fill="#6a01e2"/>
<rect x="370" y="266" width="12" height="5" fill="#5800ac"/>
<rect x="382" y="266" width="19" height="5" fill="#7602f8"/>
<rect x="401" y="266" width="6" height="5" fill="#6a01e2"/>
<rect x="407" y="266" width="75" height="5" fill="#5800ac"/>
<rect x="482" y="266" width="6" height="5" fill="#4a0081"/>
<rect x="488" y="266" width="36" height="5" fill="#5800ac"/>
<rect x="75" y="271" width="3" height="5" fill="#6a01e2"/>
<rect x="78" y="271" width="6" height="5" fill="#5800ac"/>
<rect x="84" y="271" width="6" height="5" fill="#4a0081"/>
<rect x="90" y="271" width="7" height="5" fill="#5800ac"/>
<rect x="97" y="271" width="6" height="5" fill="#6a01e2"/>
<rect x="103" y="271" width="37" height="5" fill="#5800ac"/>
<rect x="140" y="271" width="6" height="5" fill="#6a01e2"/>
<rect x="146" y="271" width="7" height="5" fill="#7602f8"/>
<rect x="153" y="271" width="6" height="5" fill="#7e04ff"/>
<rect x="159" y="271" width="25" height="5" fill="#980bc9"/>
<rect x="184" y="271" width="6" height="5" fill="#7e04ff"/>
<rect x="190" y="271" width="12" height="5" fill="#7602f8"/>
<rect x="202" y="271" width="19" height="5" fill="#6a01e2"/>
<rect x="221" y="271" width="6" height="5" fill="#7602f8"/>
<rect x="227" y="271" width="6" height="5" fill="#6a01e2"/>
<rect x="233" y="271" width="19" height="5" fill="#5800ac"/>
<rect x="252" y="271" width="31" height="5" fill="#6a01e2"/>
<rect x="283" y="271" width="37" height="5" fill="#5800ac"/>
<rect x="320" y="271" width="6" height="5" fill="#4a0081"/>
<rect x="326" y="271" width="25" height="5" fill="#5800ac"/>
<rect x="351" y="271" width="7" height="5" fill="#6a01e2"/>
<rect x="358" y="271" width="24" height="5" fill="#7602f8"/>
<rect x="382" y="271" width="13" height="5" fill="#7e04ff"/>
<rect x="395" y="271" width="6" height="5" fill="#7602f8"/>
<rect x="401" y="271" width="6" height="5" fill="#6a01e2"/>
<rect x="407" y="271" width="56" height="5" fill="#5800ac"/>
<rect x="463" y="271" width="6" height="5" fill="#4a0081"/>
<rect x="469" y="271" width="31" height="5" fill="#5800ac"/>
<rect x="500" y="271" width="13" height="5" fill="#6a01e2"/>
<rect x="513" y="271" width="11" height="5" fill="#5800ac"/>
<rect x="75" y="276" width="3" height="5" fill="#6a01e2"/>
<rect x="78" y="276" width="6" height="5" fill="#4a0081"/>
<rect x="84" y="276" width="50" height="5" fill="#5800ac"/>
<rect x="134" y="276" width="6" height="5" fill="#6a01e2"/>
<rect x="140" y="276" width="13" height="5" fill="#7602f8"/>
<rect x="153" y="276" width="6" height="5" fill="#8c07f3"/>
<rect x="159" y="276" width="6" height="5" fill="#a41287"/>
<rect x="165" y="276" width="19" height="5" fill="#b82400"/>
<rect x="184" y="276" width="6" height="5" fill="#7e04ff"/>
<rect x="190" y="276" width="6" height="5" fill="#7602f8"/>
<rect x="196" y="276" width="12" height="5" fill="#6a01e2"/>
<rect x="208" y="276" width="13" height="5" fill="#5800ac"/>
<rect x="221" y="276" width="6" height="5" fill="#7602f8"/>
<rect x="227" y="276" width="6" height="5" fill="#6a01e2"/>
<rect x="233" y="276" width="62" height="5" fill="#5800ac"/>
<rect x="295" y="276" width="7" height="5" fill="#6a01e2"/>
<rect x="302" y="276" width="49" height="5" fill="#5800ac"/>
<rect x="351" y="276" width="7" height="5" fill="#6a01e2"/>
<rect x="358" y="276" width="6" height="5" fill="#7602f8"/>
<rect x="364" y="276" width="6" height="5" fill="#7e04ff"/>
<rect x="370" y="276" width="6" height="5" fill="#8c07f3"/>
<rect x="376" y="276" width="13" height="5" fill="#980bc9"/>
<rect x="389" y="276" width="6" height="5" fill="#a41287"/>
<rect x="395" y="276" width="12" height="5" fill="#7602f8"/>
<rect x="407" y="276" width="6" height="5" fill="#6a01e2"/>
<rect x="413" y="276" width="13" height="5" fill="#5800ac"/>
<rect x="426" y="276" width="6" height="5" fill="#4a0081"/>
<rect x="432" y="276" width="31" height="5" fill="#5800ac"/>
<rect x="463" y="276" width="6" height="5" fill="#4a0081"/>
<rect x="469" y="276" width="25" height="5" fill="#5800ac"/>
<rect x="494" y="276" width="6" height="5" fill="#6a01e2"/>
<rect x="500" y="276" width="13" height="5" fill="#5800ac"/>
<rect x="513" y="276" width="6" height="5" fill="#4a0081"/>
<rect x="519" y="276" width="5" height="5" fill="#5800ac"/>
<rect x="75" y="281" width="3" height="5" fill="#6a01e2"/>
<rect x="78" y="281" width="6" height="5" fill="#5800ac"/>
<rect x="84" y="281" width="13" height="5" fill="#4a0081"/>
<rect x="97" y="281" width="6" height="5" fill="#5800ac"/>
<rect x="103" y="281" width="18" height="5" fill="#4a0081"/>
<rect x="121" y="281" width="13" height="5" fill="#5800ac"/>
<rect x="134" y="281" width="6" height="5" fill="#6a01e2"/>
<rect x="140" y="281" width="6" height="5" fill="#7602f8"/>
<rect x="146" y="281" width="7" height="5" fill="#7e04ff"/>
<rect x="153" y="281" width="6" height="5" fill="#8c07f3"/>
<rect x="159" y="281" width="6" height="5" fill="#b82400"/>
<rect x="165" y="281" width="6" height="5" fill="#c93d00"/>
<rect x="171" y="281" width="6" height="5" fill="#be2c00"/>
<rect x="177" y="281" width="7" height="5" fill="#8c07f3"/>
<rect x="184" y="281" width="6" height="5" fill="#7e04ff"/>
<rect x="190" y="281" width="6" height="5" fill="#7602f8"/>
<rect x="196" y="281" width="6" height="5" fill="#6a01e2"/>
<rect x="202" y="281" width="87" height="5" fill="#5800ac"/>
<rect x="289" y="281" width="19" height="5" fill="#6a01e2"/>
<rect x="308" y="281" width="43" height="5" fill="#5800ac"/>
<rect x="351" y="281" width="7" height="5" fill="#6a01e2"/>
<rect x="358" y="281" width="6" height="5" fill="#7602f8"/>
<rect x="364" y="281" width="6" height="5" fill="#7e04ff"/>
<rect x="370" y="281" width="6" height="5" fill="#8c07f3"/>
<rect x="376" y="281" width="13" height="5" fill="#b82400"/>
<rect x="389" y="281" width="12" height="5" fill="#8c07f3"/>
<rect x="401" y="281" width="6" height="5" fill="#7e04ff"/>
<rect x="407" y="281" width="6" height="5" fill="#7602f8"/>
<rect x="413" y="281" width="7" height="5" fill="#6a01e2"/>
<rect x="420" y="281" width="18" height="5" fill="#5800ac"/>
<rect x="438" y="281" width="6" height="5" fill="#4a0081"/>
<rect x="444" y="281" width="32" height="5" fill="#5800ac"/>
<rect x="476" y="281" width="6" height="5" fill="#4a0081"/>
<rect x="482" y="281" width="42" height="5" fill="#5800ac"/>
<rect x="75" y="286" width="3" height="6" fill="#6a01e2"/>
<rect x="78" y="286" width="56" height="6" fill="#5800ac"/>
<rect x="134" y="286" width="12" height="6" fill="#7602f8"/>
<rect x="146" y="286" width="7" height="6" fill="#7e04ff"/>
<rect x="153" y="286" width="6" height="6" fill="#8c07f3"/>
<rect x="159" y="286" width="6" height="6" fill="#c93d00"/>
<rect x="165" y="286" width="12" height="6" fill="#b82400"/>
<rect x="177" y="286" width="7" height="6" fill="#8c07f3"/>
<rect x="184" y="286" width="6" height="6" fill="#7e04ff"/>
<rect x="190" y="286" width="6" height="6" fill="#7602f8"/>
<rect x="196" y="286" width="6" height="6" fill="#6a01e2"/>
<rect x="202" y="286" width="6" height="6" fill="#5800ac"/>
<rect x="208" y="286" width="7" height="6" fill="#4a0081"/>
<rect x="215" y="286" width="6" height="6" fill="#5800ac"/>
<rect x="221" y="286" width="6" height="6" fill="#4a0081"/>
<rect x="227" y="286" width="19" height="6" fill="#5800ac"/>
<rect x="246" y="286" width="6" height="6" fill="#4a0081"/>
<rect x="252" y="286" width="31" height="6" fill="#5800ac"/>
<rect x="283" y="286" width="6" height="6" fill="#6a01e2"/>
<rect x="289" y="286" width="13" height="6" fill="#7602f8"/>
<rect x="302" y="286" width="6" height="6" fill="#6a01e2"/>
<rect x="308" y="286" width="37" height="6" fill="#5800ac"/>
<rect x="345" y="286" width="13" height="6" fill="#7602f8"/>
<rect x="358" y="286" width="6" height="6" fill="#7e04ff"/>
<rect x="364" y="286" width="12" height="6" fill="#8c07f3"/>
<rect x="376" y="286" width="13" height="6" fill="#c93d00"/>
<rect x="389" y="286" width="6" height="6" fill="#ae1a35"/>
<rect x="395" y="286" width="12" height="6" fill="#a41287"/>
<rect x="407" y="286" width="6" height="6" fill="#7e04ff"/>
<rect x="413" y="286" width="7" height="6" fill="#7602f8"/>
<rect x="420" y="286" width="6" height="6" fill="#6a01e2"/>
<rect x="426" y="286" width="18" height="6" fill="#5800ac"/>
<rect x="444" y="286" width="19" height="6" fill="#4a0081"/>
<rect x="463" y="286" width="6" height="6" fill="#5800ac"/>
<rect x="469" y="286" width="7" height="6" fill="#4a0081"/>
<rect x="476" y="286" width="18" height="6" fill="#5800ac"/>
<rect x="494" y="286" width="13" height="6" fill="#6a01e2"/>
<rect x="507" y="286" width="12" height="6" fill="#5800ac"/>
<rect x="519" y="286" width="5" height="6" fill="#6a01e2"/>
<rect x="75" y="292" width="3" height="5" fill="#6a01e2"/>
<rect x="78" y="292" width="19" height="5" fill="#5800ac"/>
<rect x="97" y="292" width="6" height="5" fill="#4a0081"/>
<rect x="103" y="292" width="12" height="5" fill="#5800ac"/>
<rect x="115" y="292" width="6" height="5" fill="#6a01e2"/>
<rect x="121" y="292" width="13" height="5" fill="#5800ac"/>
<rect x="134" y="292" width="6" height="5" fill="#7602f8"/>
<rect x="140" y="292" width="6" height="5" fill="#7e04ff"/>
<rect x="146" y="292" width="7" height="5" fill="#980bc9"/>
<rect x="153" y="292" width="6" height="5" fill="#a41287"/>
<rect x="159" y="292" width="6" height="5" fill="#ae1a35"/>
<rect x="165" y="292" width="6" height="5" fill="#b82400"/>
<rect x="171" y="292" width="6" height="5" fill="#a41287"/>
<rect x="177" y="292" width="7" height="5" fill="#8c07f3"/>
<rect x="184" y="292" width="6" height="5" fill="#7e04ff"/>
<rect x="190" y="292" width="6" height="5" fill="#7602f8"/>
<rect x="196" y="292" width="6" height="5" fill="#6a01e2"/>
<rect x="202" y="292" width="25" height="5" fill="#5800ac"/>
<rect x="227" y="292" width="6" height="5" fill="#4a0081"/>
<rect x="233" y="292" width="19" height="5" fill="#5800ac"/>
<rect x="252" y="292" width="25" height="5" fill="#6a01e2"/>
<rect x="277" y="292" width="12" height="5" fill="#7602f8"/>
<rect x="289" y="292" width="6" height="5" fill="#7e04ff"/>
<rect x="295" y="292" width="13" height="5" fill="#7602f8"/>
<rect x="308" y="292" width="12" height="5" fill="#6a01e2"/>
<rect x="320" y="292" width="13" height="5" fill="#5800ac"/>
<rect x="333" y="292" width="12" height="5" fill="#6a01e2"/>
<rect x="345" y="292" width="6" height="5" fill="#7602f8"/>
<rect x="351" y="292" width="13" height="5" fill="#7e04ff"/>
<rect x="364" y="292" width="6" height="5" fill="#8c07f3"/>
<rect x="370" y="292" width="6" height="5" fill="#980bc9"/>
<rect x="376" y="292" width="13" height="5" fill="#d45300"/>
<rect x="389" y="292" width="18" height="5" fill="#be2c00"/>
<rect x="407" y="292" width="6" height="5" fill="#7e04ff"/>
<rect x="413" y="292" width="7" height="5" fill="#7602f8"/>
<rect x="420" y="292" width="6" height="5" fill="#6a01e2"/>
<rect x="426" y="292" width="25" height="5" fill="#5800ac"/>
<rect x="451" y="292" width="12" height="5" fill="#4a0081"/>
<rect x="463" y="292" width="13" height="5" fill="#5800ac"/>
<rect x="476" y="292" width="12" height="5" fill="#4a0081"/>
<rect x="488" y="292" width="25" height="5" fill="#5800ac"/>
<rect x="513" y="292" width="6" height="5" fill="#4a0081"/>
<rect x="519" y="292" width="5" height="5" fill="#5800ac"/>
<rect x="75" y="297" width="3" height="5" fill="#7602f8"/>
<rect x="78" y="297" width="37" height="5" fill="#5800ac"/>
<rect x="115" y="297" width="6" height="5" fill="#6a01e2"/>
<rect x="121" y="297" width="13" height="5" fill="#7602f8"/>
<rect x="134" y="297" width="6" height="5" fill="#7e04ff"/>
<rect x="140" y="297" width="6" height="5" fill="#8c07f3"/>
<rect x="146" y="297" width="7" height="5" fill="#ae1a35"/>
<rect x="153" y="297" width="6" height="5" fill="#be2c00"/>
<rect x="159" y="297" width="12" height="5" fill="#ae1a35"/>
<rect x="171" y="297" width="6" height="5" fill="#980bc9"/>
<rect x="177" y="297" width="7" height="5" fill="#7e04ff"/>
<rect x="184" y="297" width="12" height="5" fill="#7602f8"/>
<rect x="196" y="297" width="6" height="5" fill="#6a01e2"/>
<rect x="202" y="297" width="25" height="5" fill="#5800ac"/>
<rect x="227" y="297" width="6" height="5" fill="#4a0081"/>
<rect x="233" y="297" width="6" height="5" fill="#5800ac"/>
<rect x="239" y="297" width="38" height="5" fill="#7602f8"/>
<rect x="277" y="297" width="6" height="5" fill="#7e04ff"/>
<rect x="283" y="297" width="6" height="5" fill="#980bc9"/>
<rect x="289" y="297" width="6" height="5" fill="#8c07f3"/>
<rect x="295" y="297" width="13" height="5" fill="#7602f8"/>
<rect x="308" y="297" width="31" height="5" fill="#6a01e2"/>
<rect x="339" y="297" width="12" height="5" fill="#7602f8"/>
<rect x="351" y="297" width="7" height="5" fill="#8c07f3"/>
<rect x="358" y="297" width="6" height="5" fill="#980bc9"/>
<rect x="364" y="297" width="6" height="5" fill="#ae1a35"/>
<rect x="370" y="297" width="6" height="5" fill="#be2c00"/>
<rect x="376" y="297" width="6" height="5" fill="#d45300"/>
<rect x="382" y="297" width="7" height="5" fill="#eca000"/>
<rect x="389" y="297" width="6" height="5" fill="#d45300"/>
<rect x="395" y="297" width="6" height="5" fill="#c93d00"/>
<rect x="401" y="297" width="6" height="5" fill="#8c07f3"/>
<rect x="407" y="297" width="6" height="5" fill="#7e04ff"/>
<rect x="413" y="297" width="7" height="5" fill="#7602f8"/>
<rect x="420" y="297" width="6" height="5" fill="#6a01e2"/>
<rect x="426" y="297" width="43" height="5" fill="#5800ac"/>
<rect x="469" y="297" width="19" height="5" fill="#4a0081"/>
<rect x="488" y="297" width="36" height="5" fill="#5800ac"/>
<rect x="75" y="302" width="9" height="5" fill="#5800ac"/>
<rect x="84" y="302" width="6" height="5" fill="#6a01e2"/>
<rect x="90" y="302" width="13" height="5" fill="#7602f8"/>
<rect x="103" y="302" width="6" height="5" fill="#6a01e2"/>
<rect x="109" y="302" width="6" height="5" fill="#7602f8"/>
<rect x="115" y="302" width="6" height="5" fill="#7e04ff"/>
<rect x="121" y="302" width="7" height="5" fill="#8c07f3"/>
<rect x="128" y="302" width="6" height="5" fill="#980bc9"/>
<rect x="134" y="302" width="6" height="5" fill="#a41287"/>
<rect x="140" y="302" width="6" height="5" fill="#b82400"/>
<rect x="146" y="302" width="7" height="5" fill="#c93d00"/>
<rect x="153" y="302" width="6" height="5" fill="#d45300"/>
<rect x="159" y="302" width="6" height="5" fill="#980bc9"/>
<rect x="165" y="302" width="6" height="5" fill="#a41287"/>
<rect x="171" y="302" width="6" height="5" fill="#8c07f3"/>
<rect x="177" y="302" width="13" height="5" fill="#7e04ff"/>
<rect x="190" y="302" width="31" height="5" fill="#5800ac"/>
<rect x="221" y="302" width="12" height="5" fill="#4a0081"/>
<rect x="233" y="302" width="6" height="5" fill="#5800ac"/>
<rect x="239" y="302" width="7" height="5" fill="#7602f8"/>
<rect x="246" y="302" width="12" height="5" fill="#7e04ff"/>
<rect x="258" y="302" width="6" height="5" fill="#980bc9"/>
<rect x="264" y="302" width="13" height="5" fill="#a41287"/>
<rect x="277" y="302" width="6" height="5" fill="#b82400"/>
<rect x="283" y="302" width="12" height="5" fill="#7e04ff"/>
<rect x="295" y="302" width="7" height="5" fill="#7602f8"/>
<rect x="302" y="302" width="31" height="5" fill="#5800ac"/>
<rect x="333" y="302" width="6" height="5" fill="#6a01e2"/>
<rect x="339" y="302" width="6" height="5" fill="#7602f8"/>
<rect x="345" y="302" width="6" height="5" fill="#7e04ff"/>
<rect x="351" y="302" width="7" height="5" fill="#980bc9"/>
<rect x="358" y="302" width="6" height="5" fill="#b82400"/>
<rect x="364" y="302" width="12" height="5" fill="#be2c00"/>
<rect x="376" y="302" width="6" height="5" fill="#c93d00"/>
<rect x="382" y="302" width="7" height="5" fill="#d45300"/>
<rect x="389" y="302" width="12" height="5" fill="#c93d00"/>
<rect x="401" y="302" width="6" height="5" fill="#8c07f3"/>
<rect x="407" y="302" width="6" height="5" fill="#7e04ff"/>
<rect x="413" y="302" width="7" height="5" fill="#7602f8"/>
<rect x="420" y="302" width="6" height="5" fill="#6a01e2"/>
<rect x="426" y="302" width="18" height="5" fill="#5800ac"/>
<rect x="444" y="302" width="7" height="5" fill="#4a0081"/>
<rect x="451" y="302" width="73" height="5" fill="#5800ac"/>
<rect x="75" y="307" width="9" height="5" fill="#5800ac"/>
<rect x="84" y="307" width="6" height="5" fill="#6a01e2"/>
<rect x="90" y="307" width="19" height="5" fill="#7602f8"/>
<rect x="109" y="307" width="6" height="5" fill="#8c07f3"/>
<rect x="115" y="307" width="6" height="5" fill="#980bc9"/>
<rect x="121" y="307" width="7" height="5" fill="#ae1a35"/>
<rect x="128" y="307" width="6" height="5" fill="#b82400"/>
<rect x="134" y="307" width="12" height="5" fill="#be2c00"/>
<rect x="146" y="307" width="13" height="5" fill="#d45300"/>
<rect x="159" y="307" width="6" height="5" fill="#980bc9"/>
<rect x="165" y="307" width="6" height="5" fill="#8c07f3"/>
<rect x="171" y="307" width="13" height="5" fill="#7e04ff"/>
<rect x="184" y="307" width="6" height="5" fill="#7602f8"/>
<rect x="190" y="307" width="6" height="5" fill="#5800ac"/>
<rect x="196" y="307" width="12" height="5" fill="#4a0081"/>
<rect x="208" y="307" width="13" height="5" fill="#5800ac"/>
<rect x="221" y="307" width="12" height="5" fill="#4a0081"/>
<rect x="233" y="307" width="6" height="5" fill="#5800ac"/>
<rect x="239" y="307" width="13" height="5" fill="#7602f8"/>
<rect x="252" y="307" width="6" height="5" fill="#7e04ff"/>
<rect x="258" y="307" width="6" height="5" fill="#8c07f3"/>
<rect x="264" y="307" width="13" height="5" fill="#be2c00"/>
<rect x="277" y="307" width="6" height="5" fill="#b82400"/>
<rect x="283" y="307" width="12" height="5" fill="#7e04ff"/>
<rect x="295" y="307" width="7" height="5" fill="#7602f8"/>
<rect x="302" y="307" width="6" height="5" fill="#6a01e2"/>
<rect x="308" y="307" width="18" height="5" fill="#5800ac"/>
<rect x="326" y="307" width="13" height="5" fill="#6a01e2"/>
<rect x="339" y="307" width="6" height="5" fill="#7e04ff"/>
<rect x="345" y="307" width="6" height="5" fill="#8c07f3"/>
<rect x="351" y="307" width="7" height="5" fill="#b82400"/>
<rect x="358" y="307" width="18" height="5" fill="#be2c00"/>
<rect x="376" y="307" width="6" height="5" fill="#c93d00"/>
<rect x="382" y="307" width="7" height="5" fill="#d45300"/>
<rect x="389" y="307" width="6" height="5" fill="#be2c00"/>
<rect x="395" y="307" width="6" height="5" fill="#c93d00"/>
<rect x="401" y="307" width="6" height="5" fill="#8c07f3"/>
<rect x="407" y="307" width="6" height="5" fill="#7e04ff"/>
<rect x="413" y="307" width="7" height="5" fill="#7602f8"/>
<rect x="420" y="307" width="6" height="5" fill="#6a01e2"/>
<rect x="426" y="307" width="25" height="5" fill="#5800ac"/>
<rect x="451" y="307" width="6" height="5" fill="#4a0081"/>
<rect x="457" y="307" width="31" height="5" fill="#5800ac"/>
<rect x="488" y="307" width="6" height="5" fill="#4a0081"/>
<rect x="494" y="307" width="30" height="5" fill="#5800ac"/>
<rect x="75" y="312" width="9" height="5" fill="#5800ac"/>
<rect x="84" y="312" width="6" height="5" fill="#6a01e2"/>
<rect x="90" y="312" width="13" height="5" fill="#7602f8"/>
<rect x="103" y="312" width="6" height="5" fill="#7e04ff"/>
<rect x="109" y="312" width="6" height="5" fill="#ae1a35"/>
<rect x="115" y="312" width="13" height="5" fill="#be2c00"/>
<rect x="128" y="312" width="12" height="5" fill="#c93d00"/>
<rect x="140" y="312" width="6" height="5" fill="#d45300"/>
<rect x="146" y="312" width="7" height="5" fill="#de6e00"/>
<rect x="153" y="312" width="6" height="5" fill="#d45300"/>
<rect x="159" y="312" width="6" height="5" fill="#980bc9"/>
<rect x="165" y="312" width="6" height="5" fill="#8c07f3"/>
<rect x="171" y="312" width="6" height="5" fill="#7e04ff"/>
<rect x="177" y="312" width="13" height="5" fill="#7602f8"/>
<rect x="190" y="312" width="6" height="5" fill="#5800ac"/>
<rect x="196" y="312" width="31" height="5" fill="#4a0081"/>
<rect x="227" y="312" width="12" height="5" fill="#5800ac"/>
<rect x="239" y="312" width="7" height="5" fill="#6a01e2"/>
<rect x="246" y="312" width="18" height="5" fill="#7602f8"/>
<rect x="264" y="312" width="7" height="5" fill="#8c07f3"/>
<rect x="271" y="312" width="6" height="5" fill="#b82400"/>
<rect x="277" y="312" width="6" height="5" fill="#a41287"/>
<rect x="283" y="312" width="50" height="5" fill="#7e04ff"/>
<rect x="333" y="312" width="6" height="5" fill="#8c07f3"/>
<rect x="339" y="312" width="6" height="5" fill="#980bc9"/>
<rect x="345" y="312" width="6" height="5" fill="#a41287"/>
<rect x="351" y="312" width="7" height="5" fill="#b82400"/>
<rect x="358" y="312" width="12" height="5" fill="#be2c00"/>
<rect x="370" y="312" width="25" height="5" fill="#d45300"/>
<rect x="395" y="312" width="12" height="5" fill="#e48300"/>
<rect x="407" y="312" width="13" height="5" fill="#7e04ff"/>
<rect x="420" y="312" width="12" height="5" fill="#7602f8"/>
<rect x="432" y="312" width="6" height="5" fill="#6a01e2"/>
<rect x="438" y="312" width="19" height="5" fill="#5800ac"/>
<rect x="457" y="312" width="6" height="5" fill="#6a01e2"/>
<rect x="463" y="312" width="37" height="5" fill="#5800ac"/>
<rect x="500" y="312" width="7" height="5" fill="#4a0081"/>
<rect x="507" y="312" width="17" height="5" fill="#5800ac"/>
<rect x="75" y="317" width="15" height="5" fill="#5800ac"/>
<rect x="90" y="317" width="13" height="5" fill="#6a01e2"/>
<rect x="103" y="317" width="6" height="5" fill="#7e04ff"/>
<rect x="109" y="317" width="6" height="5" fill="#8c07f3"/>
<rect x="115" y="317" width="6" height="5" fill="#980bc9"/>
<rect x="121" y="317" width="7" height="5" fill="#a41287"/>
<rect x="128" y="317" width="12" height="5" fill="#de6e00"/>
<rect x="140" y="317" width="6" height="5" fill="#c93d00"/>
<rect x="146" y="317" width="13" height="5" fill="#d45300"/>
<rect x="159" y="317" width="6" height="5" fill="#980bc9"/>
<rect x="165" y="317" width="6" height="5" fill="#8c07f3"/>
<rect x="171" y="317" width="6" height="5" fill="#7e04ff"/>
<rect x="177" y="317" width="13" height="5" fill="#7602f8"/>
<rect x="190" y="317" width="12" height="5" fill="#5800ac"/>
<rect x="202" y="317" width="19" height="5" fill="#4a0081"/>
<rect x="221" y="317" width="31" height="5" fill="#5800ac"/>
<rect x="252" y="317" width="6" height="5" fill="#6a01e2"/>
<rect x="258" y="317" width="6" height="5" fill="#7602f8"/>
<rect x="264" y="317" width="7" height="5" fill="#7e04ff"/>
<rect x="271" y="317" width="6" height="5" fill="#ae1a35"/>
<rect x="277" y="317" width="18" height="5" fill="#980bc9"/>
<rect x="295" y="317" width="31" height="5" fill="#8c07f3"/>
<rect x="326" y="317" width="7" height="5" fill="#980bc9"/>
<rect x="333" y="317" width="6" height="5" fill="#a41287"/>
<rect x="339" y="317" width="6" height="5" fill="#b82400"/>
<rect x="345" y="317" width="6" height="5" fill="#ae1a35"/>
<rect x="351" y="317" width="7" height="5" fill="#b82400"/>
<rect x="358" y="317" width="12" height="5" fill="#be2c00"/>
<rect x="370" y="317" width="25" height="5" fill="#c93d00"/>
<rect x="395" y="317" width="6" height="5" fill="#de6e00"/>
<rect x="401" y="317" width="6" height="5" fill="#d45300"/>
<rect x="407" y="317" width="6" height="5" fill="#a41287"/>
<rect x="413" y="317" width="7" height="5" fill="#7e04ff"/>
<rect x="420" y="317" width="6" height="5" fill="#7602f8"/>
<rect x="426" y="317" width="12" height="5" fill="#7e04ff"/>
<rect x="438" y="317" width="6" height="5" fill="#7602f8"/>
<rect x="444" y="317" width="7" height="5" fill="#6a01e2"/>
<rect x="451" y="317" width="12" height="5" fill="#5800ac"/>
<rect x="463" y="317" width="6" height="5" fill="#4a0081"/>
<rect x="469" y="317" width="55" height="5" fill="#5800ac"/>
<rect x="75" y="322" width="3" height="6" fill="#5800ac"/>
<rect x="78" y="322" width="6" height="6" fill="#4a0081"/>
<rect x="84" y="322" width="13" height="6" fill="#5800ac"/>
<rect x="97" y="322" width="6" height="6" fill="#6a01e2"/>
<rect x="103" y="322" width="6" height="6" fill="#7602f8"/>
<rect x="109" y="322" width="12" height="6" fill="#7e04ff"/>
<rect x="121" y="322" width="7" height="6" fill="#8c07f3"/>
<rect x="128" y="322" width="6" height="6" fill="#980bc9"/>
<rect x="134" y="322" width="12" height="6" fill="#c93d00"/>
<rect x="146" y="322" width="7" height="6" fill="#d45300"/>
<rect x="153" y="322" width="6" height="6" fill="#eca000"/>
<rect x="159" y="322" width="6" height="6" fill="#de6e00"/>
<rect x="165" y="322" width="6" height="6" fill="#8c07f3"/>
<rect x="171" y="322" width="13" height="6" fill="#7e04ff"/>
<rect x="184" y="322" width="6" height="6" fill="#7602f8"/>
<rect x="190" y="322" width="12" height="6" fill="#6a01e2"/>
<rect x="202" y="322" width="13" height="6" fill="#5800ac"/>
<rect x="215" y="322" width="6" height="6" fill="#4a0081"/>
<rect x="221" y="322" width="31" height="6" fill="#5800ac"/>
<rect x="252" y="322" width="6" height="6" fill="#6a01e2"/>
<rect x="258" y="322" width="6" height="6" fill="#7602f8"/>
<rect x="264" y="322" width="13" height="6" fill="#7e04ff"/>
<rect x="277" y="322" width="6" height="6" fill="#8c07f3"/>
<rect x="283" y="322" width="6" height="6" fill="#ae1a35"/>
<rect x="289" y="322" width="6" height="6" fill="#a41287"/>
<rect x="295" y="322" width="13" height="6" fill="#980bc9"/>
<rect x="308" y="322" width="12" height="6" fill="#a41287"/>
<rect x="320" y="322" width="6" height="6" fill="#ae1a35"/>
<rect x="326" y="322" width="7" height="6" fill="#b82400"/>
<rect x="333" y="322" width="12" height="6" fill="#be2c00"/>
<rect x="345" y="322" width="6" height="6" fill="#ae1a35"/>
<rect x="351" y="322" width="7" height="6" fill="#b82400"/>
<rect x="358" y="322" width="6" height="6" fill="#c93d00"/>
<rect x="364" y="322" width="31" height="6" fill="#be2c00"/>
<rect x="395" y="322" width="6" height="6" fill="#d45300"/>
<rect x="401" y="322" width="6" height="6" fill="#c93d00"/>
<rect x="407" y="322" width="6" height="6" fill="#be2c00"/>
<rect x="413" y="322" width="19" height="6" fill="#7e04ff"/>
<rect x="432" y="322" width="6" height="6" fill="#8c07f3"/>
<rect x="438" y="322" width="6" height="6" fill="#7602f8"/>
<rect x="444" y="322" width="7" height="6" fill="#5800ac"/>
<rect x="451" y="322" width="12" height="6" fill="#4a0081"/>
<rect x="463" y="322" width="61" height="6" fill="#5800ac"/>
<rect x="75" y="328" width="3" height="5" fill="#5800ac"/>
<rect x="78" y="328" width="12" height="5" fill="#4a0081"/>
<rect x="90" y="328" width="7" height="5" fill="#5800ac"/>
<rect x="97" y="328" width="6" height="5" fill="#6a01e2"/>
<rect x="103" y="328" width="12" height="5" fill="#7602f8"/>
<rect x="115" y="328" width="13" height="5" fill="#7e04ff"/>
<rect x="128" y="328" width="6" height="5" fill="#8c07f3"/>
<rect x="134" y="328" width="6" height="5" fill="#b82400"/>
<rect x="140" y="328" width="6" height="5" fill="#c93d00"/>
<rect x="146" y="328" width="13" height="5" fill="#e48300"/>
<rect x="159" y="328" width="6" height="5" fill="#d45300"/>
<rect x="165" y="328" width="6" height="5" fill="#a41287"/>
<rect x="171" y="328" width="6" height="5" fill="#8c07f3"/>
<rect x="177" y="328" width="7" height="5" fill="#7e04ff"/>
<rect x="184" y="328" width="6" height="5" fill="#7602f8"/>
<rect x="190" y="328" width="6" height="5" fill="#6a01e2"/>
<rect x="196" y="328" width="31" height="5" fill="#5800ac"/>
<rect x="227" y="328" width="6" height="5" fill="#6a01e2"/>
<rect x="233" y="328" width="6" height="5" fill="#7602f8"/>
<rect x="239" y="328" width="7" height="5" fill="#6a01e2"/>
<rect x="246" y="328" width="6" height="5" fill="#5800ac"/>
<rect x="252" y="328" width="6" height="5" fill="#6a01e2"/>
<rect x="258" y="328" width="6" height="5" fill="#7602f8"/>
<rect x="264" y="328" width="7" height="5" fill="#7e04ff"/>
<rect x="271" y="328" width="18" height="5" fill="#8c07f3"/>
<rect x="289" y="328" width="44" height="5" fill="#be2c00"/>
<rect x="333" y="328" width="6" height="5" fill="#c93d00"/>
<rect x="339" y="328" width="6" height="5" fill="#ae1a35"/>
<rect x="345" y="328" width="6" height="5" fill="#a41287"/>
<rect x="351" y="328" width="7" height="5" fill="#b82400"/>
<rect x="358" y="328" width="12" height="5" fill="#a41287"/>
<rect x="370" y="328" width="19" height="5" fill="#980bc9"/>
<rect x="389" y="328" width="6" height="5" fill="#be2c00"/>
<rect x="395" y="328" width="6" height="5" fill="#b82400"/>
<rect x="401" y="328" width="6" height="5" fill="#a41287"/>
<rect x="407" y="328" width="13" height="5" fill="#8c07f3"/>
<rect x="420" y="328" width="12" height="5" fill="#7e04ff"/>
<rect x="432" y="328" width="6" height="5" fill="#a41287"/>
<rect x="438" y="328" width="6" height="5" fill="#7602f8"/>
<rect x="444" y="328" width="7" height="5" fill="#6a01e2"/>
<rect x="451" y="328" width="18" height="5" fill="#5800ac"/>
<rect x="469" y="328" width="13" height="5" fill="#4a0081"/>
<rect x="482" y="328" width="12" height="5" fill="#5800ac"/>
<rect x="494" y="328" width="6" height="5" fill="#4a0081"/>
<rect x="500" y="328" width="13" height="5" fill="#5800ac"/>
<rect x="513" y="328" width="6" height="5" fill="#4a0081"/>
<rect x="519" y="328" width="5" height="5" fill="#5800ac"/>
<rect x="75" y="333" width="28" height="5" fill="#5800ac"/>
<rect x="103" y="333" width="12" height="5" fill="#6a01e2"/>
<rect x="115" y="333" width="13" height="5" fill="#7602f8"/>
<rect x="128" y="333" width="6" height="5" fill="#7e04ff"/>
<rect x="134" y="333" width="6" height="5" fill="#a41287"/>
<rect x="140" y="333" width="6" height="5" fill="#e48300"/>
<rect x="146" y="333" width="13" height="5" fill="#de6e00"/>
<rect x="159" y="333" width="12" height="5" fill="#c93d00"/>
<rect x="171" y="333" width="6" height="5" fill="#8c07f3"/>
<rect x="177" y="333" width="7" height="5" fill="#7e04ff"/>
<rect x="184" y="333" width="6" height="5" fill="#7602f8"/>
<rect x="190" y="333" width="6" height="5" fill="#6a01e2"/>
<rect x="196" y="333" width="31" height="5" fill="#5800ac"/>
<rect x="227" y="333" width="31" height="5" fill="#6a01e2"/>
<rect x="258" y="333" width="13" height="5" fill="#7602f8"/>
<rect x="271" y="333" width="12" height="5" fill="#7e04ff"/>
<rect x="283" y="333" width="6" height="5" fill="#8c07f3"/>
<rect x="289" y="333" width="37" height="5" fill="#c93d00"/>
<rect x="326" y="333" width="13" height="5" fill="#d45300"/>
<rect x="339" y="333" width="6" height="5" fill="#ae1a35"/>
<rect x="345" y="333" width="13" height="5" fill="#8c07f3"/>
<rect x="358" y="333" width="31" height="5" fill="#7e04ff"/>
<rect x="389" y="333" width="6" height="5" fill="#be2c00"/>
<rect x="395" y="333" width="6" height="5" fill="#8c07f3"/>
<rect x="401" y="333" width="19" height="5" fill="#7e04ff"/>
<rect x="420" y="333" width="12" height="5" fill="#7602f8"/>
<rect x="432" y="333" width="6" height="5" fill="#7e04ff"/>
<rect x="438" y="333" width="6" height="5" fill="#7602f8"/>
<rect x="444" y="333" width="7" height="5" fill="#6a01e2"/>
<rect x="451" y="333" width="25" height="5" fill="#5800ac"/>
<rect x="476" y="333" width="6" height="5" fill="#6a01e2"/>
<rect x="482" y="333" width="42" height="5" fill="#5800ac"/>
<rect x="75" y="338" width="9" height="5" fill="#5800ac"/>
<rect x="84" y="338" width="6" height="5" fill="#4a0081"/>
<rect x="90" y="338" width="19" height="5" fill="#5800ac"/>
<rect x="109" y="338" width="12" height="5" fill="#6a01e2"/>
<rect x="121" y="338" width="7" height="5" fill="#7602f8"/>
<rect x="128" y="338" width="6" height="5" fill="#7e04ff"/>
<rect x="134" y="338" width="6" height="5" fill="#8c07f3"/>
<rect x="140" y="338" width="6" height="5" fill="#de6e00"/>
<rect x="146" y="338" width="19" height="5" fill="#c93d00"/>
<rect x="165" y="338" width="6" height="5" fill="#b82400"/>
<rect x="171" y="338" width="6" height="5" fill="#980bc9"/>
<rect x="177" y="338" width="7" height="5" fill="#7e04ff"/>
<rect x="184" y="338" width="6" height="5" fill="#7602f8"/>
<rect x="190" y="338" width="6" height="5" fill="#6a01e2"/>
<rect x="196" y="338" width="43" height="5" fill="#5800ac"/>
<rect x="239" y="338" width="32" height="5" fill="#6a01e2"/>
<rect x="271" y="338" width="6" height="5" fill="#7602f8"/>
<rect x="277" y="338" width="6" height="5" fill="#7e04ff"/>
<rect x="283" y="338" width="6" height="5" fill="#8c07f3"/>
<rect x="289" y="338" width="6" height="5" fill="#ae1a35"/>
<rect x="295" y="338" width="13" height="5" fill="#d45300"/>
<rect x="308" y="338" width="18" height="5" fill="#de6e00"/>
<rect x="326" y="338" width="7" height="5" fill="#e48300"/>
<rect x="333" y="338" width="6" height="5" fill="#c93d00"/>
<rect x="339" y="338" width="6" height="5" fill="#a41287"/>
<rect x="345" y="338" width="13" height="5" fill="#7e04ff"/>
<rect x="358" y="338" width="31" height="5" fill="#7602f8"/>
<rect x="389" y="338" width="6" height="5" fill="#8c07f3"/>
<rect x="395" y="338" width="6" height="5" fill="#7e04ff"/>
<rect x="401" y="338" width="31" height="5" fill="#7602f8"/>
<rect x="432" y="338" width="6" height="5" fill="#6a01e2"/>
<rect x="438" y="338" width="6" height="5" fill="#5800ac"/>
<rect x="444" y="338" width="19" height="5" fill="#6a01e2"/>
<rect x="463" y="338" width="13" height="5" fill="#5800ac"/>
<rect x="476" y="338" width="6" height="5" fill="#6a01e2"/>
<rect x="482" y="338" width="31" height="5" fill="#5800ac"/>
<rect x="513" y="338" width="6" height="5" fill="#4a0081"/>
<rect x="519" y="338" width="5" height="5" fill="#5800ac"/>
<rect x="75" y="343" width="3" height="5" fill="#5800ac"/>
<rect x="78" y="343" width="12" height="5" fill="#4a0081"/>
<rect x="90" y="343" width="25" height="5" fill="#5800ac"/>
<rect x="115" y="343" width="6" height="5" fill="#6a01e2"/>
<rect x="121" y="343" width="7" height="5" fill="#7602f8"/>
<rect x="128" y="343" width="6" height="5" fill="#7e04ff"/>
<rect x="134" y="343" width="6" height="5" fill="#a41287"/>
<rect x="140" y="343" width="13" height="5" fill="#be2c00"/>
<rect x="153" y="343" width="6" height="5" fill="#b82400"/>
<rect x="159" y="343" width="6" height="5" fill="#be2c00"/>
<rect x="165" y="343" width="6" height="5" fill="#980bc9"/>
<rect x="171" y="343" width="6" height="5" fill="#8c07f3"/>
<rect x="177" y="343" width="7" height="5" fill="#7e04ff"/>
<rect x="184" y="343" width="6" height="5" fill="#7602f8"/>
<rect x="190" y="343" width="12" height="5" fill="#6a01e2"/>
<rect x="202" y="343" width="19" height="5" fill="#5800ac"/>
<rect x="221" y="343" width="31" height="5" fill="#4a0081"/>
<rect x="252" y="343" width="6" height="5" fill="#5800ac"/>
<rect x="258" y="343" width="6" height="5" fill="#6a01e2"/>
<rect x="264" y="343" width="13" height="5" fill="#7602f8"/>
<rect x="277" y="343" width="6" height="5" fill="#7e04ff"/>
<rect x="283" y="343" width="6" height="5" fill="#8c07f3"/>
<rect x="289" y="343" width="6" height="5" fill="#be2c00"/>
<rect x="295" y="343" width="7" height="5" fill="#d45300"/>
<rect x="302" y="343" width="31" height="5" fill="#c93d00"/>
<rect x="333" y="343" width="6" height="5" fill="#eca000"/>
<rect x="339" y="343" width="6" height="5" fill="#980bc9"/>
<rect x="345" y="343" width="13" height="5" fill="#7e04ff"/>
<rect x="358" y="343" width="12" height="5" fill="#7602f8"/>
<rect x="370" y="343" width="12" height="5" fill="#6a01e2"/>
<rect x="382" y="343" width="13" height="5" fill="#7602f8"/>
<rect x="395" y="343" width="6" height="5" fill="#6a01e2"/>
<rect x="401" y="343" width="12" height="5" fill="#5800ac"/>
<rect x="413" y="343" width="19" height="5" fill="#6a01e2"/>
<rect x="432" y="343" width="12" height="5" fill="#5800ac"/>
<rect x="444" y="343" width="19" height="5" fill="#6a01e2"/>
<rect x="463" y="343" width="25" height="5" fill="#5800ac"/>
<rect x="488" y="343" width="12" height="5" fill="#4a0081"/>
<rect x="500" y="343" width="24" height="5" fill="#5800ac"/>
<rect x="75" y="348" width="3" height="5" fill="#5800ac"/>
<rect x="78" y="348" width="6" height="5" fill="#4a0081"/>
<rect x="84" y="348" width="13" height="5" fill="#5800ac"/>
<rect x="97" y="348" width="12" height="5" fill="#6a01e2"/>
<rect x="109" y="348" width="6" height="5" fill="#5800ac"/>
<rect x="115" y="348" width="6" height="5" fill="#7602f8"/>
<rect x="121" y="348" width="13" height="5" fill="#7e04ff"/>
<rect x="134" y="348" width="6" height="5" fill="#be2c00"/>
<rect x="140" y="348" width="6" height="5" fill="#ae1a35"/>
<rect x="146" y="348" width="13" height="5" fill="#a41287"/>
<rect x="159" y="348" width="6" height="5" fill="#ae1a35"/>
<rect x="165" y="348" width="12" height="5" fill="#7e04ff"/>
<rect x="177" y="348" width="13" height="5" fill="#7602f8"/>
<rect x="190" y="348" width="18" height="5" fill="#6a01e2"/>
<rect x="208" y="348" width="13" height="5" fill="#5800ac"/>
<rect x="221" y="348" width="31" height="5" fill="#6a01e2"/>
<rect x="252" y="348" width="6" height="5" fill="#5800ac"/>
<rect x="258" y="348" width="6" height="5" fill="#7602f8"/>
<rect x="264" y="348" width="19" height="5" fill="#7e04ff"/>
<rect x="283" y="348" width="6" height="5" fill="#8c07f3"/>
<rect x="289" y="348" width="6" height="5" fill="#ae1a35"/>
<rect x="295" y="348" width="13" height="5" fill="#d45300"/>
<rect x="308" y="348" width="6" height="5" fill="#e48300"/>
<rect x="314" y="348" width="31" height="5" fill="#de6e00"/>
<rect x="345" y="348" width="6" height="5" fill="#8c07f3"/>
<rect x="351" y="348" width="13" height="5" fill="#7e04ff"/>
<rect x="364" y="348" width="6" height="5" fill="#6a01e2"/>
<rect x="370" y="348" width="12" height="5" fill="#5800ac"/>
<rect x="382" y="348" width="7" height="5" fill="#6a01e2"/>
<rect x="389" y="348" width="6" height="5" fill="#7602f8"/>
<rect x="395" y="348" width="25" height="5" fill="#5800ac"/>
<rect x="420" y="348" width="12" height="5" fill="#6a01e2"/>
<rect x="432" y="348" width="12" height="5" fill="#5800ac"/>
<rect x="444" y="348" width="13" height="5" fill="#7602f8"/>
<rect x="457" y="348" width="6" height="5" fill="#6a01e2"/>
<rect x="463" y="348" width="61" height="5" fill="#5800ac"/>
<rect x="75" y="353" width="22" height="5" fill="#5800ac"/>
<rect x="97" y="353" width="24" height="5" fill="#7602f8"/>
<rect x="121" y="353" width="13" height="5" fill="#7e04ff"/>
<rect x="134" y="353" width="6" height="5" fill="#980bc9"/>
<rect x="140" y="353" width="6" height="5" fill="#8c07f3"/>
<rect x="146" y="353" width="13" height="5" fill="#7e04ff"/>
<rect x="159" y="353" width="6" height="5" fill="#8c07f3"/>
<rect x="165" y="353" width="6" height="5" fill="#ae1a35"/>
<rect x="171" y="353" width="6" height="5" fill="#7602f8"/>
<rect x="177" y="353" width="19" height="5" fill="#6a01e2"/>
<rect x="196" y="353" width="12" height="5" fill="#5800ac"/>
<rect x="208" y="353" width="7" height="5" fill="#4a0081"/>
<rect x="215" y="353" width="6" height="5" fill="#5800ac"/>
<rect x="221" y="353" width="37" height="5" fill="#6a01e2"/>
<rect x="258" y="353" width="25" height="5" fill="#7e04ff"/>
<rect x="283" y="353" width="6" height="5" fill="#8c07f3"/>
<rect x="289" y="353" width="6" height="5" fill="#ae1a35"/>
<rect x="295" y="353" width="7" height="5" fill="#e48300"/>
<rect x="302" y="353" width="6" height="5" fill="#de6e00"/>
<rect x="308" y="353" width="12" height="5" fill="#d45300"/>
<rect x="320" y="353" width="25" height="5" fill="#c93d00"/>
<rect x="345" y="353" width="6" height="5" fill="#a41287"/>
<rect x="351" y="353" width="13" height="5" fill="#7e04ff"/>
<rect x="364" y="353" width="6" height="5" fill="#7602f8"/>
<rect x="370" y="353" width="37" height="5" fill="#5800ac"/>
<rect x="407" y="353" width="6" height="5" fill="#4a0081"/>
<rect x="413" y="353" width="7" height="5" fill="#5800ac"/>
<rect x="420" y="353" width="6" height="5" fill="#6a01e2"/>
<rect x="426" y="353" width="12" height="5" fill="#5800ac"/>
<rect x="438" y="353" width="6" height="5" fill="#6a01e2"/>
<rect x="444" y="353" width="7" height="5" fill="#7602f8"/>
<rect x="451" y="353" width="12" height="5" fill="#6a01e2"/>
<rect x="463" y="353" width="25" height="5" fill="#5800ac"/>
<rect x="488" y="353" width="6" height="5" fill="#6a01e2"/>
<rect x="494" y="353" width="19" height="5" fill="#5800ac"/>
<rect x="513" y="353" width="6" height="5" fill="#6a01e2"/>
<rect x="519" y="353" width="5" height="5" fill="#5800ac"/>
<rect x="75" y="358" width="15" height="6" fill="#5800ac"/>
<rect x="90" y="358" width="7" height="6" fill="#6a01e2"/>
<rect x="97" y="358" width="6" height="6" fill="#7602f8"/>
<rect x="103" y="358" width="12" height="6" fill="#7e04ff"/>
<rect x="115" y="358" width="13" height="6" fill="#980bc9"/>
<rect x="128" y="358" width="12" height="6" fill="#7e04ff"/>
<rect x="140" y="358" width="25" height="6" fill="#7602f8"/>
<rect x="165" y="358" width="6" height="6" fill="#8c07f3"/>
<rect x="171" y="358" width="13" height="6" fill="#7602f8"/>
<rect x="184" y="358" width="12" height="6" fill="#6a01e2"/>
<rect x="196" y="358" width="31" height="6" fill="#5800ac"/>
<rect x="227" y="358" width="19" height="6" fill="#6a01e2"/>
<rect x="246" y="358" width="25" height="6" fill="#7602f8"/>
<rect x="271" y="358" width="12" height="6" fill="#7e04ff"/>
<rect x="283" y="358" width="6" height="6" fill="#8c07f3"/>
<rect x="289" y="358" width="6" height="6" fill="#de6e00"/>
<rect x="295" y="358" width="13" height="6" fill="#d45300"/>
<rect x="308" y="358" width="12" height="6" fill="#c93d00"/>
<rect x="320" y="358" width="31" height="6" fill="#be2c00"/>
<rect x="351" y="358" width="7" height="6" fill="#ae1a35"/>
<rect x="358" y="358" width="6" height="6" fill="#8c07f3"/>
<rect x="364" y="358" width="6" height="6" fill="#7e04ff"/>
<rect x="370" y="358" width="68" height="6" fill="#5800ac"/>
<rect x="438" y="358" width="6" height="6" fill="#6a01e2"/>
<rect x="444" y="358" width="7" height="6" fill="#7602f8"/>
<rect x="451" y="358" width="6" height="6" fill="#7e04ff"/>
<rect x="457" y="358" width="12" height="6" fill="#6a01e2"/>
<rect x="469" y="358" width="7" height="6" fill="#5800ac"/>
<rect x="476" y="358" width="18" height="6" fill="#6a01e2"/>
<rect x="494" y="358" width="30" height="6" fill="#5800ac"/>
<rect x="75" y="364" width="22" height="5" fill="#5800ac"/>
<rect x="97" y="364" width="6" height="5" fill="#6a01e2"/>
<rect x="103" y="364" width="6" height="5" fill="#7602f8"/>
<rect x="109" y="364" width="12" height="5" fill="#980bc9"/>
<rect x="121" y="364" width="7" height="5" fill="#a41287"/>
<rect x="128" y="364" width="6" height="5" fill="#7e04ff"/>
<rect x="134" y="364" width="6" height="5" fill="#6a01e2"/>
<rect x="140" y="364" width="6" height="5" fill="#5800ac"/>
<rect x="146" y="364" width="19" height="5" fill="#6a01e2"/>
<rect x="165" y="364" width="12" height="5" fill="#7602f8"/>
<rect x="177" y="364" width="7" height="5" fill="#6a01e2"/>
<rect x="184" y="364" width="24" height="5" fill="#5800ac"/>
<rect x="208" y="364" width="7" height="5" fill="#4a0081"/>
<rect x="215" y="364" width="6" height="5" fill="#5800ac"/>
<rect x="221" y="364" width="12" height="5" fill="#4a0081"/>
<rect x="233" y="364" width="6" height="5" fill="#5800ac"/>
<rect x="239" y="364" width="19" height="5" fill="#6a01e2"/>
<rect x="258" y="364" width="13" height="5" fill="#5800ac"/>
<rect x="271" y="364" width="6" height="5" fill="#6a01e2"/>
<rect x="277" y="364" width="6" height="5" fill="#7602f8"/>
<rect x="283" y="364" width="6" height="5" fill="#a41287"/>
<rect x="289" y="364" width="6" height="5" fill="#de6e00"/>
<rect x="295" y="364" width="7" height="5" fill="#d45300"/>
<rect x="302" y="364" width="12" height="5" fill="#be2c00"/>
<rect x="314" y="364" width="6" height="5" fill="#ae1a35"/>
<rect x="320" y="364" width="13" height="5" fill="#980bc9"/>
<rect x="333" y="364" width="6" height="5" fill="#a41287"/>
<rect x="339" y="364" width="12" height="5" fill="#980bc9"/>
<rect x="351" y="364" width="7" height="5" fill="#8c07f3"/>
<rect x="358" y="364" width="6" height="5" fill="#7e04ff"/>
<rect x="364" y="364" width="37" height="5" fill="#5800ac"/>
<rect x="401" y="364" width="12" height="5" fill="#6a01e2"/>
<rect x="413" y="364" width="31" height="5" fill="#5800ac"/>
<rect x="444" y="364" width="50" height="5" fill="#6a01e2"/>
<rect x="494" y="364" width="30" height="5" fill="#5800ac"/>
<rect x="75" y="369" width="15" height="5" fill="#5800ac"/>
<rect x="90" y="369" width="13" height="5" fill="#6a01e2"/>
<rect x="103" y="369" width="6" height="5" fill="#7602f8"/>
<rect x="109" y="369" width="6" height="5" fill="#ae1a35"/>
<rect x="115" y="369" width="6" height="5" fill="#980bc9"/>
<rect x="121" y="369" width="7" height="5" fill="#be2c00"/>
<rect x="128" y="369" width="6" height="5" fill="#a41287"/>
<rect x="134" y="369" width="6" height="5" fill="#7602f8"/>
<rect x="140" y="369" width="19" height="5" fill="#5800ac"/>
<rect x="159" y="369" width="18" height="5" fill="#6a01e2"/>
<rect x="177" y="369" width="7" height="5" fill="#5800ac"/>
<rect x="184" y="369" width="6" height="5" fill="#4a0081"/>
<rect x="190" y="369" width="12" height="5" fill="#5800ac"/>
<rect x="202" y="369" width="6" height="5" fill="#4a0081"/>
<rect x="208" y="369" width="13" height="5" fill="#5800ac"/>
<rect x="221" y="369" width="12" height="5" fill="#4a0081"/>
<rect x="233" y="369" width="6" height="5" fill="#5800ac"/>
<rect x="239" y="369" width="7" height="5" fill="#4a0081"/>
<rect x="246" y="369" width="12" height="5" fill="#5800ac"/>
<rect x="258" y="369" width="6" height="5" fill="#6a01e2"/>
<rect x="264" y="369" width="13" height="5" fill="#7602f8"/>
<rect x="277" y="369" width="6" height="5" fill="#8c07f3"/>
<rect x="283" y="369" width="19" height="5" fill="#be2c00"/>
<rect x="302" y="369" width="6" height="5" fill="#ae1a35"/>
<rect x="308" y="369" width="6" height="5" fill="#980bc9"/>
<rect x="314" y="369" width="6" height="5" fill="#8c07f3"/>
<rect x="320" y="369" width="31" height="5" fill="#7e04ff"/>
<rect x="351" y="369" width="7" height="5" fill="#7602f8"/>
<rect x="358" y="369" width="6" height="5" fill="#6a01e2"/>
<rect x="364" y="369" width="31" height="5" fill="#5800ac"/>
<rect x="395" y="369" width="12" height="5" fill="#4a0081"/>
<rect x="407" y="369" width="50" height="5" fill="#5800ac"/>
<rect x="457" y="369" width="37" height="5" fill="#6a01e2"/>
<rect x="494" y="369" width="13" height="5" fill="#7602f8"/>
<rect x="507" y="369" width="6" height="5" fill="#6a01e2"/>
<rect x="513" y="369" width="11" height="5" fill="#5800ac"/>
<rect x="75" y="374" width="28" height="5" fill="#5800ac"/>
<rect x="103" y="374" width="6" height="5" fill="#7602f8"/>
<rect x="109" y="374" width="12" height="5" fill="#8c07f3"/>
<rect x="121" y="374" width="7" height="5" fill="#ae1a35"/>
<rect x="128" y="374" width="6" height="5" fill="#8c07f3"/>
<rect x="134" y="374" width="6" height="5" fill="#7602f8"/>
<rect x="140" y="374" width="13" height="5" fill="#5800ac"/>
<rect x="153" y="374" width="6" height="5" fill="#4a0081"/>
<rect x="159" y="374" width="6" height="5" fill="#5800ac"/>
<rect x="165" y="374" width="6" height="5" fill="#4a0081"/>
<rect x="171" y="374" width="25" height="5" fill="#5800ac"/>
<rect x="196" y="374" width="12" height="5" fill="#6a01e2"/>
<rect x="208" y="374" width="7" height="5" fill="#5800ac"/>
<rect x="215" y="374" width="6" height="5" fill="#6a01e2"/>
<rect x="221" y="374" width="6" height="5" fill="#5800ac"/>
<rect x="227" y="374" width="37" height="5" fill="#7602f8"/>
<rect x="264" y="374" width="13" height="5" fill="#7e04ff"/>
<rect x="277" y="374" width="6" height="5" fill="#be2c00"/>
<rect x="283" y="374" width="19" height="5" fill="#ae1a35"/>
<rect x="302" y="374" width="6" height="5" fill="#8c07f3"/>
<rect x="308" y="374" width="6" height="5" fill="#7e04ff"/>
<rect x="314" y="374" width="6" height="5" fill="#7602f8"/>
<rect x="320" y="374" width="38" height="5" fill="#6a01e2"/>
<rect x="358" y="374" width="130" height="5" fill="#5800ac"/>
<rect x="488" y="374" width="6" height="5" fill="#6a01e2"/>
<rect x="494" y="374" width="19" height="5" fill="#7602f8"/>
<rect x="513" y="374" width="11" height="5" fill="#6a01e2"/>
<rect x="75" y="379" width="3" height="5" fill="#5800ac"/>
<rect x="78" y="379" width="6" height="5" fill="#6a01e2"/>
<rect x="84" y="379" width="13" height="5" fill="#5800ac"/>
<rect x="97" y="379" width="24" height="5" fill="#6a01e2"/>
<rect x="121" y="379" width="7" height="5" fill="#8c07f3"/>
<rect x="128" y="379" width="6" height="5" fill="#7602f8"/>
<rect x="134" y="379" width="19" height="5" fill="#5800ac"/>
<rect x="153" y="379" width="6" height="5" fill="#4a0081"/>
<rect x="159" y="379" width="49" height="5" fill="#5800ac"/>
<rect x="208" y="379" width="7" height="5" fill="#4a0081"/>
<rect x="215" y="379" width="12" height="5" fill="#5800ac"/>
<rect x="227" y="379" width="6" height="5" fill="#7e04ff"/>
<rect x="233" y="379" width="6" height="5" fill="#8c07f3"/>
<rect x="239" y="379" width="19" height="5" fill="#7e04ff"/>
<rect x="258" y="379" width="6" height="5" fill="#980bc9"/>
<rect x="264" y="379" width="13" height="5" fill="#7e04ff"/>
<rect x="277" y="379" width="12" height="5" fill="#8c07f3"/>
<rect x="289" y="379" width="19" height="5" fill="#7e04ff"/>
<rect x="308" y="379" width="6" height="5" fill="#7602f8"/>
<rect x="314" y="379" width="6" height="5" fill="#6a01e2"/>
<rect x="320" y="379" width="106" height="5" fill="#5800ac"/>
<rect x="426" y="379" width="6" height="5" fill="#6a01e2"/>
<rect x="432" y="379" width="6" height="5" fill="#7602f8"/>
<rect x="438" y="379" width="19" height="5" fill="#5800ac"/>
<rect x="457" y="379" width="19" height="5" fill="#6a01e2"/>
<rect x="476" y="379" width="24" height="5" fill="#5800ac"/>
<rect x="500" y="379" width="19" height="5" fill="#6a01e2"/>
<rect x="519" y="379" width="5" height="5" fill="#5800ac"/>
<rect x="75" y="384" width="9" height="5" fill="#5800ac"/>
<rect x="84" y="384" width="6" height="5" fill="#6a01e2"/>
<rect x="90" y="384" width="13" height="5" fill="#7602f8"/>
<rect x="103" y="384" width="12" height="5" fill="#5800ac"/>
<rect x="115" y="384" width="6" height="5" fill="#6a01e2"/>
<rect x="121" y="384" width="7" height="5" fill="#7602f8"/>
<rect x="128" y="384" width="6" height="5" fill="#6a01e2"/>
<rect x="134" y="384" width="12" height="5" fill="#5800ac"/>
<rect x="146" y="384" width="38" height="5" fill="#4a0081"/>
<rect x="184" y="384" width="43" height="5" fill="#5800ac"/>
<rect x="227" y="384" width="31" height="5" fill="#7602f8"/>
<rect x="258" y="384" width="6" height="5" fill="#8c07f3"/>
<rect x="264" y="384" width="7" height="5" fill="#7e04ff"/>
<rect x="271" y="384" width="24" height="5" fill="#7602f8"/>
<rect x="295" y="384" width="7" height="5" fill="#7e04ff"/>
<rect x="302" y="384" width="6" height="5" fill="#7602f8"/>
<rect x="308" y="384" width="12" height="5" fill="#6a01e2"/>
<rect x="320" y="384" width="38" height="5" fill="#5800ac"/>
<rect x="358" y="384" width="6" height="5" fill="#4a0081"/>
<rect x="364" y="384" width="18" height="5" fill="#5800ac"/>
<rect x="382" y="384" width="13" height="5" fill="#6a01e2"/>
<rect x="395" y="384" width="49" height="5" fill="#5800ac"/>
<rect x="444" y="384" width="7" height="5" fill="#4a0081"/>
<rect x="451" y="384" width="6" height="5" fill="#5800ac"/>
<rect x="457" y="384" width="19" height="5" fill="#6a01e2"/>
<rect x="476" y="384" width="48" height="5" fill="#5800ac"/>
<rect x="75" y="389" width="22" height="5" fill="#6a01e2"/>
<rect x="97" y="389" width="6" height="5" fill="#5800ac"/>
<rect x="103" y="389" width="6" height="5" fill="#4a0081"/>
<rect x="109" y="389" width="12" height="5" fill="#5800ac"/>
<rect x="121" y="389" width="7" height="5" fill="#6a01e2"/>
<rect x="128" y="389" width="37" height="5" fill="#5800ac"/>
<rect x="165" y="389" width="6" height="5" fill="#4a0081"/>
<rect x="171" y="389" width="6" height="5" fill="#5800ac"/>
<rect x="177" y="389" width="7" height="5" fill="#4a0081"/>
<rect x="184" y="389" width="12" height="5" fill="#5800ac"/>
<rect x="196" y="389" width="6" height="5" fill="#4a0081"/>
<rect x="202" y="389" width="6" height="5" fill="#5800ac"/>
<rect x="208" y="389" width="7" height="5" fill="#4a0081"/>
<rect x="215" y="389" width="12" height="5" fill="#5800ac"/>
<rect x="227" y="389" width="12" height="5" fill="#6a01e2"/>
<rect x="239" y="389" width="7" height="5" fill="#7602f8"/>
<rect x="246" y="389" width="6" height="5" fill="#6a01e2"/>
<rect x="252" y="389" width="6" height="5" fill="#7602f8"/>
<rect x="258" y="389" width="6" height="5" fill="#7e04ff"/>
<rect x="264" y="389" width="7" height="5" fill="#7602f8"/>
<rect x="271" y="389" width="24" height="5" fill="#6a01e2"/>
<rect x="295" y="389" width="7" height="5" fill="#7602f8"/>
<rect x="302" y="389" width="62" height="5" fill="#6a01e2"/>
<rect x="364" y="389" width="6" height="5" fill="#5800ac"/>
<rect x="370" y="389" width="12" height="5" fill="#6a01e2"/>
<rect x="382" y="389" width="31" height="5" fill="#5800ac"/>
<rect x="413" y="389" width="7" height="5" fill="#4a0081"/>
<rect x="420" y="389" width="12" height="5" fill="#5800ac"/>
<rect x="432" y="389" width="6" height="5" fill="#4a0081"/>
<rect x="438" y="389" width="6" height="5" fill="#5800ac"/>
<rect x="444" y="389" width="13" height="5" fill="#4a0081"/>
<rect x="457" y="389" width="25" height="5" fill="#5800ac"/>
<rect x="482" y="389" width="6" height="5" fill="#6a01e2"/>
<rect x="488" y="389" width="12" height="5" fill="#5800ac"/>
<rect x="500" y="389" width="13" height="5" fill="#4a0081"/>
<rect x="513" y="389" width="11" height="5" fill="#5800ac"/>
<rect x="75" y="394" width="28" height="6" fill="#5800ac"/>
<rect x="103" y="394" width="6" height="6" fill="#4a0081"/>
<rect x="109" y="394" width="25" height="6" fill="#5800ac"/>
<rect x="134" y="394" width="12" height="6" fill="#4a0081"/>
<rect x="146" y="394" width="25" height="6" fill="#5800ac"/>
<rect x="171" y="394" width="13" height="6" fill="#4a0081"/>
<rect x="184" y="394" width="24" height="6" fill="#5800ac"/>
<rect x="208" y="394" width="7" height="6" fill="#4a0081"/>
<rect x="215" y="394" width="6" height="6" fill="#5800ac"/>
<rect x="221" y="394" width="12" height="6" fill="#4a0081"/>
<rect x="233" y="394" width="25" height="6" fill="#5800ac"/>
<rect x="258" y="394" width="6" height="6" fill="#7602f8"/>
<rect x="264" y="394" width="13" height="6" fill="#6a01e2"/>
<rect x="277" y="394" width="31" height="6" fill="#5800ac"/>
<rect x="308" y="394" width="6" height="6" fill="#6a01e2"/>
<rect x="314" y="394" width="37" height="6" fill="#7602f8"/>
<rect x="351" y="394" width="7" height="6" fill="#6a01e2"/>
<rect x="358" y="394" width="6" height="6" fill="#5800ac"/>
<rect x="364" y="394" width="18" height="6" fill="#4a0081"/>
<rect x="382" y="394" width="13" height="6" fill="#5800ac"/>
<rect x="395" y="394" width="18" height="6" fill="#4a0081"/>
<rect x="413" y="394" width="31" height="6" fill="#5800ac"/>
<rect x="444" y="394" width="7" height="6" fill="#6a01e2"/>
<rect x="451" y="394" width="73" height="6" fill="#5800ac"/>
<rect x="75" y="400" width="15" height="5" fill="#5800ac"/>
<rect x="90" y="400" width="7" height="5" fill="#4a0081"/>
<rect x="97" y="400" width="24" height="5" fill="#5800ac"/>
<rect x="121" y="400" width="13" height="5" fill="#6a01e2"/>
<rect x="134" y="400" width="6" height="5" fill="#5800ac"/>
<rect x="140" y="400" width="6" height="5" fill="#6a01e2"/>
<rect x="146" y="400" width="50" height="5" fill="#4a0081"/>
<rect x="196" y="400" width="50" height="5" fill="#5800ac"/>
<rect x="246" y="400" width="31" height="5" fill="#6a01e2"/>
<rect x="277" y="400" width="6" height="5" fill="#5800ac"/>
<rect x="283" y="400" width="6" height="5" fill="#4a0081"/>
<rect x="289" y="400" width="6" height="5" fill="#5800ac"/>
<rect x="295" y="400" width="7" height="5" fill="#6a01e2"/>
<rect x="302" y="400" width="12" height="5" fill="#7602f8"/>
<rect x="314" y="400" width="6" height="5" fill="#7e04ff"/>
<rect x="320" y="400" width="6" height="5" fill="#ae1a35"/>
<rect x="326" y="400" width="13" height="5" fill="#980bc9"/>
<rect x="339" y="400" width="12" height="5" fill="#7602f8"/>
<rect x="351" y="400" width="7" height="5" fill="#6a01e2"/>
<rect x="358" y="400" width="24" height="5" fill="#5800ac"/>
<rect x="382" y="400" width="7" height="5" fill="#4a0081"/>
<rect x="389" y="400" width="6" height="5" fill="#5800ac"/>
<rect x="395" y="400" width="6" height="5" fill="#6a01e2"/>
<rect x="401" y="400" width="6" height="5" fill="#7602f8"/>
<rect x="407" y="400" width="13" height="5" fill="#6a01e2"/>
<rect x="420" y="400" width="24" height="5" fill="#5800ac"/>
<rect x="444" y="400" width="19" height="5" fill="#6a01e2"/>
<rect x="463" y="400" width="61" height="5" fill="#5800ac"/>
<rect x="75" y="405" width="53" height="5" fill="#5800ac"/>
<rect x="128" y="405" width="12" height="5" fill="#4a0081"/>
<rect x="140" y="405" width="75" height="5" fill="#5800ac"/>
<rect x="215" y="405" width="6" height="5" fill="#6a01e2"/>
<rect x="221" y="405" width="25" height="5" fill="#5800ac"/>
<rect x="246" y="405" width="12" height="5" fill="#4a0081"/>
<rect x="258" y="405" width="13" height="5" fill="#5800ac"/>
<rect x="271" y="405" width="18" height="5" fill="#6a01e2"/>
<rect x="289" y="405" width="19" height="5" fill="#7602f8"/>
<rect x="308" y="405" width="6" height="5" fill="#980bc9"/>
<rect x="314" y="405" width="6" height="5" fill="#ae1a35"/>
<rect x="320" y="405" width="13" height="5" fill="#be2c00"/>
<rect x="333" y="405" width="12" height="5" fill="#7602f8"/>
<rect x="345" y="405" width="13" height="5" fill="#6a01e2"/>
<rect x="358" y="405" width="12" height="5" fill="#5800ac"/>
<rect x="370" y="405" width="6" height="5" fill="#4a0081"/>
<rect x="376" y="405" width="31" height="5" fill="#5800ac"/>
<rect x="407" y="405" width="19" height="5" fill="#6a01e2"/>
<rect x="426" y="405" width="12" height="5" fill="#5800ac"/>
<rect x="438" y="405" width="6" height="5" fill="#6a01e2"/>
<rect x="444" y="405" width="44" height="5" fill="#5800ac"/>
<rect x="488" y="405" width="6" height="5" fill="#6a01e2"/>
<rect x="494" y="405" width="19" height="5" fill="#5800ac"/>
<rect x="513" y="405" width="6" height="5" fill="#4a0081"/>
<rect x="519" y="405" width="5" height="5" fill="#5800ac"/>
<rect x="75" y="410" width="46" height="5" fill="#5800ac"/>
<rect x="121" y="410" width="13" height="5" fill="#4a0081"/>
<rect x="134" y="410" width="12" height="5" fill="#5800ac"/>
<rect x="146" y="410" width="19" height="5" fill="#4a0081"/>
<rect x="165" y="410" width="19" height="5" fill="#5800ac"/>
<rect x="184" y="410" width="6" height="5" fill="#6a01e2"/>
<rect x="190" y="410" width="12" height="5" fill="#7602f8"/>
<rect x="202" y="410" width="62" height="5" fill="#6a01e2"/>
<rect x="264" y="410" width="19" height="5" fill="#7602f8"/>
<rect x="283" y="410" width="6" height="5" fill="#7e04ff"/>
<rect x="289" y="410" width="6" height="5" fill="#8c07f3"/>
<rect x="295" y="410" width="7" height="5" fill="#a41287"/>
<rect x="302" y="410" width="6" height="5" fill="#ae1a35"/>
<rect x="308" y="410" width="6" height="5" fill="#b82400"/>
<rect x="314" y="410" width="6" height="5" fill="#be2c00"/>
<rect x="320" y="410" width="13" height="5" fill="#c93d00"/>
<rect x="333" y="410" width="12" height="5" fill="#7602f8"/>
<rect x="345" y="410" width="31" height="5" fill="#6a01e2"/>
<rect x="376" y="410" width="6" height="5" fill="#7602f8"/>
<rect x="382" y="410" width="7" height="5" fill="#6a01e2"/>
<rect x="389" y="410" width="24" height="5" fill="#5800ac"/>
<rect x="413" y="410" width="25" height="5" fill="#4a0081"/>
<rect x="438" y="410" width="6" height="5" fill="#5800ac"/>
<rect x="444" y="410" width="25" height="5" fill="#4a0081"/>
<rect x="469" y="410" width="7" height="5" fill="#5800ac"/>
<rect x="476" y="410" width="6" height="5" fill="#6a01e2"/>
<rect x="482" y="410" width="12" height="5" fill="#7602f8"/>
<rect x="494" y="410" width="30" height="5" fill="#5800ac"/>
<rect x="75" y="415" width="3" height="4" fill="#6a01e2"/>
<rect x="78" y="415" width="106" height="4" fill="#5800ac"/>
<rect x="184" y="415" width="6" height="4" fill="#980bc9"/>
<rect x="190" y="415" width="6" height="4" fill="#a41287"/>
<rect x="196" y="415" width="6" height="4" fill="#980bc9"/>
<rect x="202" y="415" width="37" height="4" fill="#6a01e2"/>
<rect x="239" y="415" width="25" height="4" fill="#7602f8"/>
<rect x="264" y="415" width="7" height="4" fill="#7e04ff"/>
<rect x="271" y="415" width="6" height="4" fill="#8c07f3"/>
<rect x="277" y="415" width="6" height="4" fill="#980bc9"/>
<rect x="283" y="415" width="6" height="4" fill="#a41287"/>
<rect x="289" y="415" width="6" height="4" fill="#ae1a35"/>
<rect x="295" y="415" width="13" height="4" fill="#b82400"/>
<rect x="308" y="415" width="6" height="4" fill="#be2c00"/>
<rect x="314" y="415" width="6" height="4" fill="#c93d00"/>
<rect x="320" y="415" width="6" height="4" fill="#d45300"/>
<rect x="326" y="415" width="7" height="4" fill="#980bc9"/>
<rect x="333" y="415" width="12" height="4" fill="#7602f8"/>
<rect x="345" y="415" width="25" height="4" fill="#6a01e2"/>
<rect x="370" y="415" width="6" height="4" fill="#8c07f3"/>
<rect x="376" y="415" width="6" height="4" fill="#7e04ff"/>
<rect x="382" y="415" width="7" height="4" fill="#6a01e2"/>
<rect x="389" y="415" width="80" height="4" fill="#5800ac"/>
<rect x="469" y="415" width="7" height="4" fill="#6a01e2"/>
<rect x="476" y="415" width="6" height="4" fill="#7602f8"/>
<rect x="482" y="415" width="12" height="4" fill="#980bc9"/>
<rect x="494" y="415" width="30" height="4" fill="#5800ac"/>
<g fill="none" stroke="#0892ff" stroke-width="1" stroke-linejoin="round"><polyline points="77.1,97.2 81.5,99.5 86.2,101.4 84.0,103.9 83.4,105.8 80.2,103.9 75.5,104.5"/>
<polyline points="92.8,98.9 96.5,95.8 104.0,92.6 110.2,92.6 119.0,93.5 124.0,95.1 129.0,96.4 132.8,95.8 136.5,94.5 139.0,93.9 144.0,95.8 149.0,96.4 154.0,96.4"/>
<polyline points="92.8,98.9 94.6,100.1 97.8,101.4 93.4,102.6 90.2,103.2 95.2,103.9 98.4,105.1 94.6,108.2 94.0,112.0 96.5,115.8 99.6,118.2 102.8,118.9 100.9,120.8 99.0,123.2 97.1,125.1"/>
<polyline points="97.1,125.1 102.8,122.0 106.5,118.9 109.0,116.4 111.5,114.5 114.0,113.9 116.5,113.9 121.5,115.1 125.2,114.5 127.8,115.8 130.2,117.0 132.8,118.2 135.2,120.8 136.5,124.5 139.0,127.0 141.5,129.5 142.8,133.2 145.9,137.0 144.0,138.2 144.6,142.0 144.6,147.0"/>
<polyline points="77.8,132.6 79.6,132.2"/>
<polyline points="82.1,131.4 82.8,131.4"/>
<polyline points="87.1,130.5 87.8,130.2"/>
<polyline points="90.2,128.2 91.8,127.2"/>
<polyline points="108.8,119.2 110.5,120.8"/>
<polyline points="187.8,71.4 196.5,69.5 204.0,68.5 211.5,67.6 219.0,68.5 222.1,70.5 220.2,72.6 215.2,74.2 212.1,76.4 211.5,78.9 215.2,79.5 220.2,78.9 223.4,80.8"/>
<polyline points="191.5,77.0 197.8,74.5 202.8,73.2 209.0,72.2 214.6,71.4 219.0,70.5"/>
<polyline points="190.2,82.0 196.5,80.5 202.8,78.9 207.8,77.0 212.1,75.1"/>
<polyline points="195.2,75.8 192.8,78.2 191.5,80.8"/>
<polyline points="149.0,81.4 154.0,79.5"/>
<polyline points="160.2,78.2 164.0,77.6"/>
<polyline points="155.2,83.2 160.2,81.4 164.0,80.5 167.1,83.0 162.8,84.2 157.8,84.2 155.2,83.2"/>
<polyline points="146.5,90.1 147.8,85.8 150.2,85.5 152.1,88.5 149.6,90.8 146.5,90.8"/>
<polyline points="151.5,89.5 156.5,90.1 162.8,90.5 166.5,88.9 168.4,91.4 172.8,93.9 175.9,96.4 178.4,97.6 181.5,94.8 185.2,93.5 187.8,96.0 190.9,98.2 194.6,97.0 199.0,95.8 202.8,95.8"/>
<polyline points="144.0,96.0 151.5,96.5 157.8,97.8 164.0,100.2 167.8,100.5 170.2,98.9 174.6,98.2 179.0,100.5 182.1,101.4"/>
<polyline points="170.2,75.8 175.2,78.0 177.1,80.8 174.6,83.2 177.1,83.9 181.5,82.6 180.2,79.5 177.8,78.2"/>
<polyline points="172.8,88.2 176.5,87.6 177.5,90.5 174.6,90.5 172.8,88.2"/>
<polyline points="181.5,87.6 184.6,86.4 184.2,88.9 181.5,87.6"/>
<polyline points="160.2,117.0 165.2,116.4 169.0,117.6 172.8,119.5 174.0,122.0 177.8,120.8"/>
<polyline points="149.0,107.0 152.8,109.5 156.5,111.4 162.8,110.1"/>
<polyline points="145.2,102.0 149.0,101.4 152.8,100.8"/>
<polyline points="146.5,104.5 150.2,103.2"/>
<polyline points="144.6,136.4 146.5,137.6 144.6,139.5 144.6,145.8 145.2,153.2 146.5,159.5 149.6,164.5 152.8,168.2 154.0,173.2 154.4,175.1"/>
<polyline points="175.2,132.0 176.8,128.9 177.8,127.6"/>
<polyline points="175.9,132.0 177.1,135.8"/>
<polyline points="180.2,138.2 184.6,134.5"/>
<polyline points="184.0,139.5 189.0,137.6 191.5,138.9 194.0,142.0 196.5,144.5 195.9,147.6 194.6,145.8 192.8,143.2 191.5,142.0 190.2,144.5 190.9,148.9 192.8,147.0 195.2,148.2 197.1,150.8 199.6,149.5 202.8,147.6 206.5,145.8 210.2,143.2 213.4,140.8 215.9,138.9 220.2,135.8 224.0,135.1"/>
<polyline points="185.2,143.2 187.1,141.4"/>
<polyline points="214.0,143.2 212.1,148.2 209.6,153.2 206.5,157.6 204.6,160.8 202.8,164.5 200.9,168.9 199.6,172.6 199.0,177.0 199.0,183.2 196.5,180.8 191.5,177.0 187.8,177.0 182.8,178.2 179.6,180.1 178.4,184.5 178.4,187.0"/>
<polyline points="158.4,152.0 159.6,151.4"/>
<polyline points="156.2,180.5 159.0,184.5 162.8,185.8 165.9,188.9 169.0,193.2 171.5,198.2 173.4,202.0 177.8,203.9 182.8,207.0 186.5,209.5 190.2,212.6 194.0,215.8 197.1,220.1 201.5,221.4 203.4,222.6 202.1,227.0 201.5,232.0 201.2,237.0"/>
<polyline points="189.0,177.2 184.0,177.6 180.2,179.5 178.4,183.9 179.0,190.8 179.0,195.8 182.1,198.2 185.2,199.5 187.8,197.6 190.9,195.1 190.2,198.9 189.6,203.2 191.5,206.4 194.0,208.2 195.9,213.2 197.1,219.5 199.0,220.8 203.4,222.0 205.2,219.5 209.0,216.4 211.5,214.5 213.4,217.0 217.8,218.2 221.5,219.5 225.2,222.0 229.0,225.8 232.1,229.5 234.0,232.0"/>
<polyline points="191.5,177.0 194.0,178.9 198.4,182.6 199.6,180.8 199.6,177.0"/>
<polyline points="194.2,193.9 197.8,193.2 201.5,195.1 205.2,196.4 207.8,197.6"/>
<polyline points="195.2,194.5 199.0,195.5 203.4,196.8"/>
<polyline points="206.5,201.4 209.6,200.1 212.8,199.5 211.5,200.8 207.8,201.6"/>
<polyline points="202.1,187.2 203.4,189.5 205.2,188.9"/>
<polyline points="202.5,227.0 201.5,233.2 200.6,239.5 200.6,245.8 201.2,254.5 202.5,260.8 204.4,267.0 207.5,272.0 210.6,276.4 211.5,279.5 211.5,287.0"/>
<polyline points="231.2,227.0 233.1,230.8 236.2,237.0 240.0,242.0 243.1,243.9 246.2,245.1 250.0,248.9 253.8,252.6 256.9,255.1 255.0,257.0 253.8,262.0 251.9,267.0 250.6,272.0 249.4,278.2 248.1,283.2 246.2,285.1 245.0,287.0"/>
<polyline points="211.5,287.0 211.0,298.2 209.8,305.8 208.8,313.2 208.5,323.2 208.5,334.5 207.5,341.4 208.1,345.1 209.8,347.0"/>
<polyline points="244.4,287.0 240.0,289.5 238.1,292.6 237.2,299.5 235.0,304.5 231.2,310.1 227.5,314.5 223.8,319.5 220.0,325.8 216.9,330.8 214.4,336.4 213.1,342.0 212.2,347.0"/>
<polyline points="225.2,344.5 226.5,344.5"/>
<polyline points="208.5,337.0 207.5,342.0 210.6,347.0 212.8,351.0 217.5,351.4 213.8,348.0 213.1,343.9 214.0,337.0"/>
<polyline points="225.0,344.5 226.5,344.5"/>
<polyline points="180.0,389.5 196.2,389.2 200.6,387.6 206.2,388.5 210.0,389.5 213.8,387.0 216.2,383.2 216.9,378.2 218.1,374.5 221.2,371.0 224.4,369.2 226.2,370.5 224.4,373.2 220.0,377.0 218.8,378.5 221.2,380.5 222.5,383.5 223.1,387.0 223.1,392.0"/>
<polyline points="206.9,385.1 211.2,380.8 213.1,381.4 212.5,384.5 210.6,387.0 208.1,386.4 206.9,385.1"/>
<polyline points="223.1,392.0 227.5,394.5 231.2,396.8"/>
<polyline points="223.1,392.0 216.2,394.5 208.8,395.8 200.0,396.8"/>
<polyline points="220.0,70.8 225.0,69.5 235.0,69.2 243.1,68.9 250.0,67.0 252.5,66.4 260.0,66.4 263.8,67.2 268.8,67.6 267.5,69.5 268.1,72.0 275.0,72.6 278.8,72.0 282.5,71.4 280.0,72.0 277.5,73.9 275.0,76.4 275.6,79.5 273.8,80.8 272.5,84.5 269.4,86.4 266.9,88.2 269.4,90.1 271.9,91.0 268.8,91.4 265.6,92.6 265.6,94.5 268.8,95.1 265.6,97.0 260.0,97.6 257.5,99.5 256.9,101.4 253.8,102.6 250.0,103.9 248.8,106.4 246.9,108.9 245.6,112.0 245.6,115.1 243.8,113.2 239.4,113.0 238.1,110.8 236.2,107.0 235.0,103.9 233.1,102.0 232.5,99.5 235.0,97.0 235.6,93.2 234.4,92.0 231.2,90.8 230.6,87.0 228.8,85.1 225.6,83.2 222.5,81.8 220.0,81.0"/>
<polyline points="270.6,103.2 275.0,101.4 279.4,101.0 280.0,103.9 280.6,106.4 276.9,106.8 273.8,107.0 271.2,105.1 270.6,103.2"/>
<polyline points="220.0,100.1 221.5,101.4 221.2,104.5 220.0,105.1"/>
<polyline points="289.0,92.6 289.8,92.6"/>
<polyline points="315.5,75.5 320.9,74.2 334.6,74.2"/>
<polyline points="316.5,75.8 320.2,81.0 325.2,78.9 330.0,79.8"/>
<polyline points="322.8,77.0 327.8,76.4 326.8,78.5"/>
<polyline points="353.4,74.5 356.5,73.2 359.0,73.9 362.8,73.2"/>
<polyline points="306.5,117.0 309.0,110.8 312.8,107.0 317.1,102.0 320.2,98.2 325.2,95.8 330.2,94.2 334.0,93.2 336.5,94.2 340.2,96.4 344.0,98.2 347.8,100.1 351.5,101.4 340.2,102.0 343.4,106.4 347.8,106.4 351.5,105.8 354.0,103.9 356.5,100.8 355.9,98.2 357.8,101.4 361.5,98.9 364.0,98.2 374.0,98.0"/>
<polyline points="374.0,84.5 369.0,87.0 365.9,89.8 368.4,92.6 371.5,93.9 369.0,90.8 372.8,87.6 374.0,87.0"/>
<polyline points="322.8,117.0 322.1,108.2 325.9,106.4 329.0,104.2 327.1,107.0 327.8,112.0 329.6,115.1 331.5,116.4 335.2,116.8"/>
<polyline points="297.1,113.2 298.4,114.5"/>
<polyline points="312.8,107.0 309.0,110.8 307.1,116.4 310.2,119.5 314.0,120.1 317.8,123.2 321.5,119.5 323.8,114.5 323.8,109.5 325.2,107.0"/>
<polyline points="327.1,107.0 327.8,110.8 330.2,115.8 335.2,116.4 330.2,119.5 325.2,122.0 320.9,125.8 317.1,128.2 314.0,124.5 310.9,123.2 308.4,127.0 305.2,132.0 301.5,135.1 296.5,137.6 294.6,138.9 296.5,142.0 297.8,144.5 294.0,147.0 290.9,149.5 289.0,153.2 288.4,158.2 291.5,162.0"/>
<polyline points="291.5,162.0 295.2,162.6 299.0,161.4 301.5,155.8 304.0,152.0 309.0,149.5 312.8,151.4 315.2,154.5 317.1,157.6 321.5,158.2 324.6,160.1 327.1,162.0"/>
<polyline points="317.1,147.0 320.2,150.8 322.8,154.5 325.2,158.2 327.1,162.0 328.4,162.6 329.2,157.0 332.8,155.8 334.0,159.5 336.5,162.0 341.5,164.5 344.0,166.0"/>
<polyline points="337.8,144.5 344.0,145.1 349.6,142.6 349.0,150.8 347.8,154.5 341.5,155.1 335.2,153.9 336.5,148.2 337.8,144.5"/>
<polyline points="291.5,118.2 293.4,119.5 295.9,120.8 297.1,125.8 299.6,130.1 300.9,133.2 297.8,133.9 294.6,135.1 295.9,133.2 294.0,129.5 293.4,125.8 292.1,124.5 291.5,122.0 291.5,118.2"/>
<polyline points="289.6,124.5 287.8,127.0 287.1,129.5 288.4,132.0 290.9,130.8 291.5,127.6 289.6,124.5"/>
<polyline points="360.2,143.2 359.6,148.2 360.2,153.2 360.9,158.2 362.8,159.5 364.0,157.0"/>
<polyline points="297.1,113.2 298.4,114.5"/>
<polyline points="310.2,154.5 310.9,156.0"/>
<polyline points="316.2,160.1 318.0,160.1"/>
<polyline points="288.4,157.0 290.9,162.6 294.6,163.2 299.0,161.4 300.9,157.0"/>
<polyline points="279.0,217.0 279.0,198.2 279.6,190.8 282.1,185.8 284.6,180.1 287.8,174.5 291.5,167.0 292.8,165.1 296.5,164.5 302.8,163.2 308.4,162.2 311.5,162.6 312.8,166.4 314.0,169.5 317.8,171.4 321.5,173.9 324.6,176.4 326.5,174.5 329.0,172.6 332.8,173.9 336.5,174.5 339.0,175.8 340.2,177.6 342.1,182.0 344.0,187.0"/>
<polyline points="339.0,175.8 341.5,172.0 343.4,167.0 341.5,165.1 337.8,163.9 334.6,162.0 332.8,157.0"/>
<polyline points="339.6,178.2 342.8,181.4 345.9,187.0"/>
<polyline points="324.0,157.0 325.2,160.1 326.5,162.6 328.4,162.0 329.0,157.0"/>
<polyline points="316.2,160.5 318.5,160.5"/>
<polyline points="329.0,165.5 329.8,166.8"/>
<polyline points="284.0,223.9 286.5,225.8 290.2,227.6 294.0,229.2 299.0,227.2 302.8,227.6 307.1,230.1 310.2,233.9 311.5,238.2 313.4,243.2 314.0,248.2 314.6,253.2 315.9,259.5 316.8,267.0"/>
<polyline points="352.1,215.1 359.0,214.8 362.8,214.5 363.4,217.0 361.5,222.0 359.0,228.2 355.9,233.9 352.8,239.5 350.9,245.8 349.0,252.0 348.4,257.0 349.0,262.0 349.6,267.0"/>
<polyline points="340.2,238.2 341.5,239.8 341.8,245.1"/>
<polyline points="359.6,264.5 360.2,267.0"/>
<polyline points="315.5,257.0 316.5,262.0 315.9,268.2 314.6,274.5 315.2,280.8 317.1,287.0 319.0,293.2 320.9,300.8 322.8,307.0 324.0,311.4 326.5,310.8 331.5,309.5"/>
<polyline points="348.4,257.0 349.0,264.5 347.1,270.8 345.2,277.0 343.4,283.2 342.1,289.5 340.2,295.8 337.1,300.8 334.0,305.1 332.1,309.5 331.5,309.5"/>
<polyline points="360.2,264.5 359.0,268.2 356.5,273.2 354.6,278.2 354.6,283.2 354.6,290.1 357.1,285.8 360.2,279.5 360.9,272.0 360.2,264.5"/>
<polyline points="384.6,80.1 379.0,82.6 374.0,85.1 369.0,87.0 365.9,89.5 367.8,92.0 371.5,93.5"/>
<polyline points="365.9,89.5 370.2,87.6 375.2,85.1 380.2,82.6 384.0,80.5"/>
<polyline points="364.0,98.2 375.2,97.6 379.0,96.4 384.0,95.8 384.6,92.6 388.4,91.4 390.2,93.2 391.5,97.0 389.0,99.5 385.9,100.8 389.0,102.6 394.0,98.9 396.5,100.8 399.6,101.8"/>
<polyline points="392.1,90.8 393.4,93.9 394.6,96.4"/>
<polyline points="395.2,90.8 397.8,92.6 401.5,91.4 400.2,88.9 401.5,90.8 404.0,94.5"/>
<polyline points="401.5,88.9 406.5,87.0 410.2,83.9 415.2,82.6 420.2,81.4 425.2,80.8 427.8,79.5 431.5,80.8 435.2,82.6 438.4,83.2 434.0,86.4 439.0,87.0 444.0,87.2"/>
<polyline points="415.2,73.9 417.8,72.6 419.0,74.5 416.5,75.8 421.5,75.1 424.0,75.8"/>
<polyline points="425.5,75.8 426.0,78.2"/>
<polyline points="376.5,73.2 376.8,73.2"/>
<polyline points="379.2,72.6 380.5,72.6"/>
<polyline points="444.0,87.2 455.9,87.2 457.1,88.9 459.6,88.2 457.8,89.5 461.5,92.0 465.2,91.4 469.0,90.8 472.8,89.5 481.5,89.2 484.0,90.8 489.0,92.6 494.0,93.5 499.0,94.2 504.0,95.1 509.0,94.5 514.0,95.1 519.0,96.0 524.0,97.2"/>
<polyline points="470.9,83.0 474.0,82.2 476.5,83.2 480.9,83.2 483.4,84.5"/>
<polyline points="472.8,84.5 476.5,84.5"/>
<polyline points="470.2,127.0 472.8,119.5 475.2,117.6 481.5,116.8 490.2,116.4 493.4,112.0 496.5,113.2 499.0,113.9 502.8,111.4"/>
<polyline points="494.0,127.0 493.4,118.2 499.0,114.5 502.8,111.4"/>
<polyline points="501.5,127.0 503.4,115.1 509.0,114.5 514.0,113.2 519.0,110.1 522.1,105.8 524.0,103.9"/>
<polyline points="359.6,144.5 363.4,142.6 364.6,144.5 365.2,152.0 366.5,160.1 361.5,159.8 360.0,155.8 359.6,149.5 359.6,144.5"/>
<polyline points="373.4,145.8 375.2,143.9 376.5,144.5 374.6,147.0 374.2,149.5"/>
<polyline points="391.5,147.6 395.2,145.1 398.8,143.2"/>
<polyline points="394.0,152.6 394.8,152.6"/>
<polyline points="361.5,178.2 363.4,182.0 366.5,184.5 369.0,186.4"/>
<polyline points="480.8,117.0 475.1,118.1 472.3,122.7 469.4,127.6 472.3,129.0 474.4,130.5 473.7,135.4 473.0,141.1 469.4,144.6 465.2,148.2 461.6,151.7 459.5,156.7 457.4,161.6 456.0,163.8 455.3,159.5 453.8,157.4 450.3,155.3 446.0,159.5 450.3,161.6 451.0,166.6 450.3,173.7 448.9,179.4 448.2,185.0"/>
<polyline points="475.8,126.2 477.2,132.6 477.9,138.3 476.5,146.8 478.6,150.3 475.1,151.7"/>
<polyline points="475.1,151.7 473.7,156.0 471.6,159.5 468.0,162.4 464.5,164.5 463.8,167.3 469.4,166.6 473.0,165.2 474.4,159.5 475.1,153.8"/>
<polyline points="460.9,170.1 463.8,168.7 464.5,171.6 462.3,173.0 460.9,170.1"/>
<polyline points="493.5,117.0 493.5,124.1 493.2,133.3 497.8,129.0 502.0,124.1 503.4,117.0"/>
<polyline points="513.1,129.5 513.9,129.5"/>
<polyline points="519.7,131.2 519.7,132.6"/>
<polyline points="361.5,178.2 362.8,183.2 365.9,186.4 370.2,187.6 379.0,188.2 382.8,190.8 386.5,194.5 389.6,197.6 390.2,203.2 392.1,209.5 394.0,215.8 394.6,220.1 397.8,217.0 400.2,213.2 401.5,205.8 406.5,200.8 411.5,195.1 412.8,194.5 415.2,199.5 419.0,203.9 420.9,207.6 421.5,213.2 422.1,219.5 424.0,224.5 425.9,228.2 427.1,232.0 427.8,237.0"/>
<polyline points="370.2,187.6 372.1,192.6 371.5,199.5"/>
<polyline points="354.0,214.5 362.8,214.5 363.4,217.0 361.5,223.2 359.0,228.2 356.5,233.2 354.6,237.0"/>
<polyline points="399.6,220.1 398.4,226.4"/>
<polyline points="417.1,226.4 421.5,230.8 426.5,235.8"/>
<polyline points="423.4,210.8 426.5,214.5 429.0,217.2 432.8,217.2 434.0,214.5"/>
<polyline points="433.4,199.5 434.0,209.5"/>
<polyline points="450.2,177.0 448.4,182.0 447.8,186.4 444.0,188.9 439.0,193.2 434.6,193.2 434.0,197.0 437.1,197.6"/>
<polyline points="434.0,197.6 433.4,204.5 432.8,210.1 432.1,214.5 432.1,217.0 429.0,217.2 426.5,214.5 424.0,211.4"/>
<polyline points="450.2,200.1 451.5,200.8 452.8,208.2 450.2,210.8 449.6,203.9 450.2,200.1"/>
<polyline points="447.1,217.0 448.4,215.1"/>
<polyline points="453.4,224.5 455.2,218.2 455.9,225.1 451.5,225.1 453.4,224.5"/>
<polyline points="424.0,215.8 425.2,224.5 427.1,232.0 427.8,237.0"/>
<polyline points="445.2,224.5 441.5,228.2 437.8,233.2 436.5,237.0"/>
<polyline points="445.2,224.5 445.9,237.0"/>
<polyline points="449.0,186.4 451.5,185.8"/>
<polyline points="417.1,227.0 421.5,231.4 425.9,235.8 428.4,240.1 430.9,244.5 425.9,244.5 424.0,239.5 421.5,233.2 419.0,227.0"/>
<polyline points="424.0,227.0 426.5,230.8 427.1,227.0"/>
<polyline points="445.2,227.0 441.5,232.0 437.8,237.0 435.2,240.8 437.8,243.2 441.5,245.8 444.0,241.4 446.5,237.0 446.5,230.8 445.2,227.0"/>
<polyline points="431.5,251.4 434.0,253.2 437.8,253.9 441.5,254.5 435.2,253.2 432.8,252.0"/>
<polyline points="442.1,287.0 442.1,282.0 446.5,278.2 450.2,275.8 452.8,272.0 454.6,268.2 457.8,269.5 460.2,267.0"/>
<polyline points="462.1,241.4 464.6,243.2 475.9,243.2 479.0,248.9 482.8,254.5 486.5,259.5 482.8,258.9 479.0,256.4 475.2,255.1 472.8,253.2 469.0,249.5 465.2,245.1 462.8,242.6 462.1,241.4"/>
<polyline points="444.0,280.1 449.0,277.0 452.8,273.2 455.2,268.9 459.0,269.5 461.5,265.8 464.0,261.4 467.1,262.6 469.0,265.8 470.9,272.0 474.0,265.8 476.5,260.1 478.4,264.5 480.2,270.8 482.8,277.0 485.2,283.2 487.8,288.2 489.0,293.2 489.6,297.0"/>
<polyline points="503.4,279.2 503.6,280.8"/>
<polyline points="521.5,273.5 522.8,272.2"/>
<polyline points="441.1,287.0 441.8,295.5 443.2,305.4 448.2,307.5 455.3,304.7 462.3,302.3 468.0,309.7 472.3,313.9 474.4,316.8 479.4,317.5 483.6,313.9 487.1,308.3 487.9,301.2 489.3,294.1 487.6,287.0"/>
<polyline points="479.4,322.1 481.5,326.0 483.3,325.0"/>
<polyline points="514.1,308.3 516.2,312.5 519.0,318.9 517.6,314.6 514.8,309.0"/>
<polyline points="514.1,321.7 514.8,325.3 511.9,328.1 508.4,333.1 511.2,330.9 514.1,328.1 514.1,321.7"/>
<polyline points="76.8,399.3 96.5,398.9 102.1,398.4"/>
<polyline points="96.5,398.9 99.3,402.1"/>
<polyline points="76.8,412.4 85.3,412.4 94.6,413.8 105.9,414.3 115.3,414.3 112.4,410.6 109.6,406.8 108.1,403.1 110.6,398.0 115.3,395.6 122.8,394.6 130.3,392.8 137.8,390.9 145.3,389.9 149.0,390.5 156.5,391.8 160.3,393.3 164.0,392.4 169.6,391.3 173.4,390.9 175.3,388.4 179.0,389.0 194.0,389.0"/>
<polyline points="194.0,389.0 201.5,387.1 209.0,388.1 214.6,387.1 222.1,386.2 222.1,392.8"/>
<polyline points="222.1,392.8 220.3,381.5 217.4,376.8 220.3,372.1 224.0,370.3 226.8,372.1 224.0,376.8 222.1,383.4 223.1,392.8"/>
<polyline points="207.1,385.3 211.8,381.5 213.7,380.6 212.8,385.3 209.0,387.1 207.1,385.3"/>
<polyline points="223.1,392.8 231.5,396.5 239.0,398.4 244.6,399.3 246.5,402.1 242.8,404.0 231.5,404.0 222.1,404.0 212.8,402.1 205.3,400.3 197.8,398.4 195.9,397.4 201.5,395.6 210.9,394.6 218.4,393.7 223.1,392.8"/>
<polyline points="220.3,403.6 227.8,402.1 237.1,400.3 244.6,399.3"/>
<polyline points="246.5,402.1 255.9,404.0 258.7,403.1 257.8,399.3 263.4,395.6 269.0,393.7 276.5,390.9 284.0,387.1 291.5,384.3 297.1,381.5 302.8,381.5 306.5,383.4 314.0,382.4"/>
<polyline points="314.0,383.0 323.4,383.0 325.3,384.3 331.8,383.4 334.6,381.5 340.3,380.6 346.8,382.4 353.4,377.8 360.9,375.9 365.6,374.4 370.3,375.5 375.9,376.8 381.5,377.8 386.2,378.7 386.2,382.4 389.0,381.5 394.6,380.6 400.3,377.8 404.0,375.9 407.8,374.9 411.5,374.9 420.9,374.4 434.0,374.0"/>
<polyline points="404.0,376.3 415.3,375.5 422.8,374.9 439.6,374.9 447.1,376.3 454.6,374.4 467.8,374.9 475.3,376.8 482.8,379.3 490.3,380.6 497.8,381.5 505.3,384.3 510.9,386.8 506.2,392.8 503.4,399.3 506.2,404.9 509.9,408.7 517.4,410.6"/>
<polyline points="503.4,399.3 509.0,397.4 516.5,398.4 522.5,399.3"/>
<polyline points="202.5,111.2 205.0,111.7 210.8,112.5 213.3,115.8 215.4,118.3 217.9,116.7 220.0,116.7 222.1,119.2 224.2,122.5 225.8,125.4 227.5,127.5 227.1,129.2 229.6,130.4 227.5,132.1 225.0,134.2 220.8,135.8 216.7,137.1 214.2,138.8 211.7,141.7 208.3,144.2 205.0,146.7 201.7,148.8 200.0,149.6"/>
<polyline points="202.5,111.2 203.3,113.3 203.3,120.8 202.9,126.7 202.1,130.8 200.8,132.5 200.0,132.5"/>
<polyline points="227.5,132.5 226.7,135.0 226.2,138.3 227.5,141.2 230.8,142.5 233.3,143.3 232.5,140.8 231.7,137.5 231.2,133.8 230.0,132.1 227.5,132.5"/>
<polyline points="212.5,150.0 213.3,146.7 215.4,142.9 217.5,144.2 219.2,145.8 221.7,146.2 223.3,145.0"/>
<polyline points="215.8,138.3 218.3,138.8 220.0,139.2 221.7,137.5"/>
<polyline points="220.0,141.7 221.2,142.9"/>
<polyline points="224.2,142.1 224.6,143.3"/>
<polyline points="154.4,175.0 156.2,180.6 158.5,183.0 160.6,185.6 162.2,186.5"/>
<polyline points="157.5,176.6 159.4,176.2 160.3,178.8 162.5,183.1 162.8,188.1 161.2,188.4 159.4,186.9 157.5,182.5 156.9,178.8 157.5,176.6"/>
<polyline points="101.5,193.5 102.0,193.5"/>
<polyline points="103.0,194.8 104.5,196.0"/>
<polyline points="105.5,197.5 106.0,197.5"/>
<polyline points="185.0,238.5 185.0,239.5"/>
<polyline points="180.2,106.7 186.0,106.2 190.2,103.3 195.2,100.8 197.7,98.8 196.8,96.7 196.0,95.0"/>
<polyline points="186.0,108.3 183.5,111.7 181.0,115.8 180.6,117.5 182.7,120.0 186.0,122.1 190.2,122.9 193.5,125.8 196.8,129.2 200.2,131.7 201.4,132.1 202.7,128.3 203.1,124.2 203.1,118.3 202.7,112.5 203.5,111.7 208.5,112.1 211.0,113.3 213.5,116.7 216.0,117.5 219.3,116.7 221.8,118.3 223.5,121.7 225.2,124.2 226.0,125.8"/>
<polyline points="199.3,122.5 201.4,123.3"/>
<polyline points="193.5,107.5 194.3,103.3 196.4,105.0 198.5,107.5 196.8,108.3 196.0,109.6 193.5,107.5"/>
<polyline points="203.5,95.0 206.0,98.3 210.2,100.4 212.2,101.2 209.3,102.5 205.2,105.8 203.5,106.2 206.8,107.5 211.0,109.2 213.5,110.4 216.0,109.2 219.3,107.9 217.7,105.0 216.0,103.3 217.7,102.5 221.0,103.3 221.4,101.7 219.3,99.2 216.8,96.7 215.2,95.0"/>
<polyline points="176.0,97.9 179.3,100.8 181.0,101.2 182.7,98.3 183.5,95.8 184.3,95.0"/>
<polyline points="185.2,95.0 186.8,97.5 190.2,98.3 193.5,97.9 196.0,95.8"/>
<polyline points="200.0,110.4 200.3,110.4"/>
<polyline points="193.1,72.8 199.4,72.1 208.8,70.5 218.1,69.7"/>
<polyline points="191.6,76.8 197.8,75.2 205.6,73.6 213.4,72.8 219.7,72.1"/>
<polyline points="190.0,79.9 196.2,79.1 202.5,77.5 210.3,76.0"/>
<polyline points="186.9,83.0 193.1,82.2 199.4,81.4"/>
<polyline points="169.7,76.0 173.6,77.5 177.5,79.9 179.8,83.0 175.9,83.8 173.6,81.4 169.7,76.0"/>
<polyline points="182.2,86.1 184.5,86.9 183.8,88.5 181.4,87.7 182.2,86.1"/>
<polyline points="175.9,87.7 178.3,89.2 176.7,90.8"/>
<polyline points="155.6,83.0 160.3,81.4 165.0,79.9 168.9,83.0 165.0,84.6 158.8,84.6 155.6,83.0"/>
<polyline points="279.0,217.0 280.0,219.5 282.0,222.2 284.0,223.9"/>
<polyline points="344.0,187.0 345.5,195.6 347.8,203.1 350.2,209.7 352.5,215.3 358.1,215.3 363.3,214.6"/>
<polyline points="345.9,187.0 349.2,196.6 351.6,204.1 353.0,208.8 357.2,211.6 360.9,210.2 365.6,206.4 370.3,200.3 371.5,199.5"/></g>
<rect x="74.5" y="57.5" width="450" height="362" fill="none" stroke="#000" stroke-width="1"/>
<defs><linearGradient id="cb" x1="0" y1="0" x2="0" y2="1"><stop offset="0.0000" stop-color="#ffff00"/><stop offset="0.0167" stop-color="#fdf200"/><stop offset="0.0333" stop-color="#fbe600"/><stop offset="0.0500" stop-color="#f9db00"/><stop offset="0.0667" stop-color="#f6cf00"/><stop offset="0.0833" stop-color="#f4c400"/><stop offset="0.1000" stop-color="#f2ba00"/><stop offset="0.1167" stop-color="#f0b000"/><stop offset="0.1333" stop-color="#eda600"/><stop offset="0.1500" stop-color="#eb9d00"/><stop offset="0.1667" stop-color="#e99400"/><stop offset="0.1833" stop-color="#e68b00"/><stop offset="0.2000" stop-color="#e48300"/><stop offset="0.2167" stop-color="#e27b00"/><stop offset="0.2333" stop-color="#df7300"/><stop offset="0.2500" stop-color="#dd6c00"/><stop offset="0.2667" stop-color="#da6500"/><stop offset="0.2833" stop-color="#d85e00"/><stop offset="0.3000" stop-color="#d55700"/><stop offset="0.3167" stop-color="#d35100"/><stop offset="0.3333" stop-color="#d04c00"/><stop offset="0.3500" stop-color="#ce4600"/><stop offset="0.3667" stop-color="#cb4100"/><stop offset="0.3833" stop-color="#c83c00"/><stop offset="0.4000" stop-color="#c63700"/><stop offset="0.4167" stop-color="#c33300"/><stop offset="0.4333" stop-color="#c02e00"/><stop offset="0.4500" stop-color="#bd2a00"/><stop offset="0.4667" stop-color="#ba2700"/><stop offset="0.4833" stop-color="#b72300"/><stop offset="0.5000" stop-color="#b42000"/><stop offset="0.5167" stop-color="#b11d1b"/><stop offset="0.5333" stop-color="#ae1a35"/><stop offset="0.5500" stop-color="#ab174f"/><stop offset="0.5667" stop-color="#a81568"/><stop offset="0.5833" stop-color="#a5127f"/><stop offset="0.6000" stop-color="#a11096"/><stop offset="0.6167" stop-color="#9e0eab"/><stop offset="0.6333" stop-color="#9a0dbe"/><stop offset="0.6500" stop-color="#970bce"/><stop offset="0.6667" stop-color="#9309dd"/><stop offset="0.6833" stop-color="#8f08e9"/><stop offset="0.7000" stop-color="#8c07f3"/><stop offset="0.7167" stop-color="#8806f9"/><stop offset="0.7333" stop-color="#8405fe"/><stop offset="0.7500" stop-color="#8004ff"/><stop offset="0.7667" stop-color="#7b03fe"/><stop offset="0.7833" stop-color="#7703f9"/><stop offset="0.8000" stop-color="#7202f3"/><stop offset="0.8167" stop-color="#6d02e9"/><stop offset="0.8333" stop-color="#6801dd"/><stop offset="0.8500" stop-color="#6301ce"/><stop offset="0.8667" stop-color="#5d01be"/><stop offset="0.8833" stop-color="#5700ab"/><stop offset="0.9000" stop-color="#510096"/><stop offset="0.9167" stop-color="#4a007f"/><stop offset="0.9333" stop-color="#420068"/><stop offset="0.9500" stop-color="#39004f"/><stop offset="0.9667" stop-color="#2f0035"/><stop offset="0.9833" stop-color="#21001b"/><stop offset="1.0000" stop-color="#000000"/></linearGradient></defs><rect x="535" y="57" width="23" height="362" fill="url(#cb)"/>
<rect x="535.5" y="57.5" width="22" height="362" fill="none" stroke="#000" stroke-width="1"/>
<path d="M535.5 58.5h4M557.5 58.5h-4" stroke="#000" stroke-width="1"/>
<path d="M535.5 98.5h4M557.5 98.5h-4" stroke="#000" stroke-width="1"/>
<path d="M535.5 138.5h4M557.5 138.5h-4" stroke="#000" stroke-width="1"/>
<path d="M535.5 178.5h4M557.5 178.5h-4" stroke="#000" stroke-width="1"/>
<path d="M535.5 218.5h4M557.5 218.5h-4" stroke="#000" stroke-width="1"/>
<path d="M535.5 259.5h4M557.5 259.5h-4" stroke="#000" stroke-width="1"/>
<path d="M535.5 299.5h4M557.5 299.5h-4" stroke="#000" stroke-width="1"/>
<path d="M535.5 339.5h4M557.5 339.5h-4" stroke="#000" stroke-width="1"/>
<path d="M535.5 379.5h4M557.5 379.5h-4" stroke="#000" stroke-width="1"/>
<path d="M535.5 419.5h4M557.5 419.5h-4" stroke="#000" stroke-width="1"/>
<g font-family="Liberation Sans, sans-serif" font-size="16" fill="#000" stroke="#fff" stroke-width="0.25" shape-rendering="auto"><text transform="translate(297.5,31.8) scale(1,0.96)" text-anchor="middle">StdDev_VTEC / TECU 20180326_085.66600</text>
<text transform="translate(297.5,469.6) scale(1,0.96)" text-anchor="middle">Longitude / deg</text>
<text transform="translate(17.6,238.5) rotate(-90) scale(1,0.96)" text-anchor="middle">Latitude / deg</text>
<text transform="translate(61.6,76.9) scale(1,0.96)" text-anchor="end">80</text>
<text transform="translate(61.6,118.9) scale(1,0.96)" text-anchor="end">60</text>
<text transform="translate(61.6,160.03) scale(1,0.96)" text-anchor="end">40</text>
<text transform="translate(61.6,201.16) scale(1,0.96)" text-anchor="end">20</text>
<text transform="translate(61.6,242.29) scale(1,0.96)" text-anchor="end">0</text>
<text transform="translate(61.6,283.42) scale(1,0.96)" text-anchor="end">-20</text>
<text transform="translate(61.6,324.55) scale(1,0.96)" text-anchor="end">-40</text>
<text transform="translate(61.6,365.68) scale(1,0.96)" text-anchor="end">-60</text>
<text transform="translate(61.6,406.81) scale(1,0.96)" text-anchor="end">-80</text>
<text transform="translate(111.9,442.0) scale(1,0.96)" text-anchor="middle">-150</text>
<text transform="translate(174.03,442.0) scale(1,0.96)" text-anchor="middle">-100</text>
<text transform="translate(236.15,442.0) scale(1,0.96)" text-anchor="middle">-50</text>
<text transform="translate(298.27,442.0) scale(1,0.96)" text-anchor="middle">0</text>
<text transform="translate(360.4,442.0) scale(1,0.96)" text-anchor="middle">50</text>
<text transform="translate(422.52,442.0) scale(1,0.96)" text-anchor="middle">100</text>
<text transform="translate(484.65,442.0) scale(1,0.96)" text-anchor="middle">150</text>
<text transform="translate(570.8,61.0) scale(1,0.96)" text-anchor="start">11</text>
<text transform="translate(570.8,101.2) scale(1,0.96)" text-anchor="start">10.5</text>
<text transform="translate(570.8,141.4) scale(1,0.96)" text-anchor="start">10</text>
<text transform="translate(570.8,181.6) scale(1,0.96)" text-anchor="start">9.5</text>
<text transform="translate(570.8,221.8) scale(1,0.96)" text-anchor="start">9</text>
<text transform="translate(570.8,262.0) scale(1,0.96)" text-anchor="start">8.5</text>
<text transform="translate(570.8,302.2) scale(1,0.96)" text-anchor="start">8</text>
<text transform="translate(570.8,342.4) scale(1,0.96)" text-anchor="start">7.5</text>
<text transform="translate(570.8,382.6) scale(1,0.96)" text-anchor="start">7</text>
<text transform="translate(570.8,422.8) scale(1,0.96)" text-anchor="start">6.5</text>
<text transform="translate(75.6,74.3) scale(1,0.96)" text-anchor="end">&quot;rms_</text></g></svg></body></html>
